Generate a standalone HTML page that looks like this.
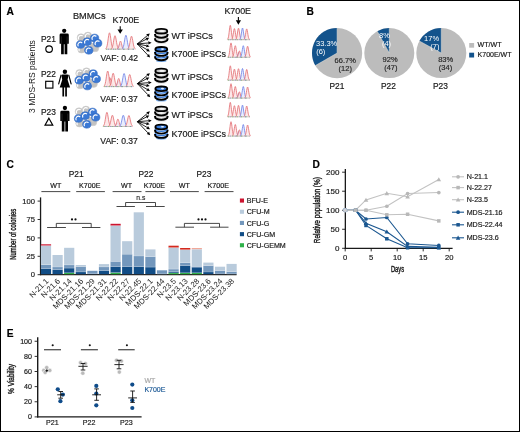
<!DOCTYPE html>
<html><head><meta charset="utf-8"><style>
html,body{margin:0;padding:0;background:#fff;overflow:hidden;width:520px;height:432px;}
#wrap{width:520px;height:432px;overflow:hidden;}
svg{display:block;will-change:transform;}
text{font-family:"Liberation Sans",sans-serif;}
</style></head><body>
<div id="wrap"><svg width="520" height="432" viewBox="0 0 520 432">
<defs>
<linearGradient id="gWT" x1="0" x2="1" y1="0" y2="0"><stop offset="0" stop-color="#b8b8b8"/><stop offset="0.5" stop-color="#f4f4f4"/><stop offset="1" stop-color="#b8b8b8"/></linearGradient>
<linearGradient id="gWTi" x1="0" x2="1" y1="0" y2="0"><stop offset="0" stop-color="#a8a8a8"/><stop offset="0.55" stop-color="#e6e6e6"/><stop offset="1" stop-color="#b0b0b0"/></linearGradient>
<linearGradient id="gBL" x1="0" x2="1" y1="0" y2="0"><stop offset="0" stop-color="#9ec2f0"/><stop offset="0.5" stop-color="#eef4fc"/><stop offset="1" stop-color="#9ec2f0"/></linearGradient>
<linearGradient id="gBLi" x1="0" x2="1" y1="0" y2="0"><stop offset="0" stop-color="#2a6fd4"/><stop offset="0.5" stop-color="#4d8ee6"/><stop offset="1" stop-color="#2a6fd4"/></linearGradient>
</defs>
<rect x="0.5" y="0.5" width="519" height="431" fill="#fff" stroke="#000" stroke-width="1"/>
<text x="6.60" y="15.10" font-size="10.2" fill="#000" stroke="#000" stroke-width="0.18" text-anchor="start" font-weight="bold" >A</text>
<text x="306.60" y="15.10" font-size="10.2" fill="#000" stroke="#000" stroke-width="0.18" text-anchor="start" font-weight="bold" >B</text>
<text x="6.40" y="168.00" font-size="10.2" fill="#000" stroke="#000" stroke-width="0.18" text-anchor="start" font-weight="bold" >C</text>
<text x="312.40" y="167.60" font-size="10.2" fill="#000" stroke="#000" stroke-width="0.18" text-anchor="start" font-weight="bold" >D</text>
<text x="6.80" y="337.00" font-size="10.2" fill="#000" stroke="#000" stroke-width="0.18" text-anchor="start" font-weight="bold" >E</text>
<text x="72.90" y="19.10" font-size="9.2" fill="#1a1a1a" stroke="#1a1a1a" stroke-width="0.18" text-anchor="start" font-weight="normal" >BMMCs</text>
<text x="112.60" y="23.40" font-size="8.9" fill="#1a1a1a" stroke="#1a1a1a" stroke-width="0.18" text-anchor="start" font-weight="normal" >K700E</text>
<text x="224.40" y="13.80" font-size="8.9" fill="#1a1a1a" stroke="#1a1a1a" stroke-width="0.18" text-anchor="start" font-weight="normal" >K700E</text>
<line x1="120.2" y1="26.2" x2="120.2" y2="30.099999999999998" stroke="#000" stroke-width="1.1"/>
<path d="M117.5,29.599999999999998 L122.9,29.599999999999998 L120.2,33.8 Z" fill="#000"/>
<line x1="238.4" y1="17.0" x2="238.4" y2="20.700000000000003" stroke="#000" stroke-width="1.1"/>
<path d="M235.8,20.200000000000003 L241.0,20.200000000000003 L238.4,24.8 Z" fill="#000"/>
<text transform="translate(35.3,76.5) rotate(-90)" font-size="8.5" fill="#1a1a1a" text-anchor="middle">3 MDS-RS patients</text>
<text x="40.90" y="41.70" font-size="8.4" fill="#1a1a1a" stroke="#1a1a1a" stroke-width="0.18" text-anchor="start" font-weight="normal" >P21</text>
<text x="40.90" y="77.10" font-size="8.4" fill="#1a1a1a" stroke="#1a1a1a" stroke-width="0.18" text-anchor="start" font-weight="normal" >P22</text>
<text x="40.90" y="114.50" font-size="8.4" fill="#1a1a1a" stroke="#1a1a1a" stroke-width="0.18" text-anchor="start" font-weight="normal" >P23</text>
<circle cx="49.1" cy="49.1" r="3.3" fill="none" stroke="#000" stroke-width="1.15"/>
<rect x="45.7" y="81.3" width="7.2" height="6.8" fill="none" stroke="#000" stroke-width="1.15"/>
<path d="M48.9,118.2 L52.8,125.1 L45.0,125.1 Z" fill="none" stroke="#000" stroke-width="1.15" stroke-linejoin="miter"/>
<circle cx="64.2" cy="30.8" r="2.15" fill="#000"/>
<path d="M59.6,35.0 Q59.6,33.6 61.0,33.6 L67.4,33.6 Q68.8,33.6 68.8,35.0 L68.8,43.7 L67.3,43.7 L67.3,54.3 L64.60000000000001,54.3 L64.60000000000001,44.2 L63.800000000000004,44.2 L63.800000000000004,54.3 L61.1,54.3 L61.1,43.7 L59.6,43.7 Z" fill="#000"/>
<line x1="61.300000000000004" y1="36.4" x2="61.300000000000004" y2="43.7" stroke="#555" stroke-width="0.4"/>
<line x1="67.10000000000001" y1="36.4" x2="67.10000000000001" y2="43.7" stroke="#555" stroke-width="0.4"/>
<circle cx="64.9" cy="71.8" r="2.2" fill="#000"/>
<path d="M62.50000000000001,74.5 L67.30000000000001,74.5 Q68.30000000000001,74.5 68.4,75.7 L67.60000000000001,79.7 L70.10000000000001,87.6 L59.7,87.6 L62.2,79.7 L61.400000000000006,75.7 Q61.50000000000001,74.5 62.50000000000001,74.5 Z" fill="#000"/>
<path d="M61.00000000000001,75.2 L58.7,83.9" stroke="#000" stroke-width="1.15" stroke-linecap="round"/>
<path d="M68.80000000000001,75.2 L71.10000000000001,83.9" stroke="#000" stroke-width="1.15" stroke-linecap="round"/>
<rect x="62.400000000000006" y="87.0" width="1.7" height="9.5" fill="#000"/>
<rect x="65.2" y="87.0" width="1.7" height="9.5" fill="#000"/>
<circle cx="64.9" cy="108.0" r="2.15" fill="#000"/>
<path d="M60.300000000000004,112.20000000000002 Q60.300000000000004,110.80000000000001 61.7,110.80000000000001 L68.10000000000001,110.80000000000001 Q69.5,110.80000000000001 69.5,112.20000000000002 L69.5,120.9 L68.0,120.9 L68.0,131.5 L65.30000000000001,131.5 L65.30000000000001,121.4 L64.5,121.4 L64.5,131.5 L61.800000000000004,131.5 L61.800000000000004,120.9 L60.300000000000004,120.9 Z" fill="#000"/>
<line x1="62.00000000000001" y1="113.60000000000001" x2="62.00000000000001" y2="120.9" stroke="#555" stroke-width="0.4"/>
<line x1="67.80000000000001" y1="113.60000000000001" x2="67.80000000000001" y2="120.9" stroke="#555" stroke-width="0.4"/>
<circle cx="81.00" cy="37.60" r="3.9" fill="#c2c2c2" stroke="#d0d0d0" stroke-width="0.5"/><path d="M78.54,38.99 A2.65,2.65 0 0 1 82.33,35.71" fill="none" stroke="#fff" stroke-width="1.2" stroke-linecap="round"/><circle cx="87.90" cy="36.00" r="3.9" fill="#c2c2c2" stroke="#d0d0d0" stroke-width="0.5"/><path d="M85.44,37.39 A2.65,2.65 0 0 1 89.23,34.11" fill="none" stroke="#fff" stroke-width="1.2" stroke-linecap="round"/><circle cx="81.60" cy="49.20" r="3.9" fill="#c2c2c2" stroke="#d0d0d0" stroke-width="0.5"/><path d="M79.14,50.59 A2.65,2.65 0 0 1 82.92,47.31" fill="none" stroke="#fff" stroke-width="1.2" stroke-linecap="round"/><circle cx="95.00" cy="47.90" r="3.9" fill="#c2c2c2" stroke="#d0d0d0" stroke-width="0.5"/><path d="M92.54,49.29 A2.65,2.65 0 0 1 96.33,46.01" fill="none" stroke="#fff" stroke-width="1.2" stroke-linecap="round"/><circle cx="88.50" cy="45.50" r="3.9" fill="#c2c2c2" stroke="#d0d0d0" stroke-width="0.5"/><path d="M86.04,46.89 A2.65,2.65 0 0 1 89.83,43.61" fill="none" stroke="#fff" stroke-width="1.2" stroke-linecap="round"/><circle cx="92.00" cy="44.50" r="3.9" fill="#c2c2c2" stroke="#d0d0d0" stroke-width="0.5"/><path d="M89.54,45.89 A2.65,2.65 0 0 1 93.33,42.61" fill="none" stroke="#fff" stroke-width="1.2" stroke-linecap="round"/><ellipse cx="80.50" cy="44.50" rx="4.15" ry="3.85" fill="#3b79d5" stroke="#3068c0" stroke-width="0.6"/><path d="M78.04,45.89 A2.65,2.65 0 0 1 81.83,42.61" fill="none" stroke="#fff" stroke-width="1.2" stroke-linecap="round"/><ellipse cx="87.20" cy="41.70" rx="4.15" ry="3.85" fill="#3b79d5" stroke="#3068c0" stroke-width="0.6"/><path d="M84.74,43.09 A2.65,2.65 0 0 1 88.53,39.81" fill="none" stroke="#fff" stroke-width="1.2" stroke-linecap="round"/><ellipse cx="94.60" cy="38.00" rx="4.15" ry="3.85" fill="#3b79d5" stroke="#3068c0" stroke-width="0.6"/><path d="M92.14,39.39 A2.65,2.65 0 0 1 95.92,36.11" fill="none" stroke="#fff" stroke-width="1.2" stroke-linecap="round"/><ellipse cx="97.70" cy="43.20" rx="4.15" ry="3.85" fill="#3b79d5" stroke="#3068c0" stroke-width="0.6"/><path d="M95.24,44.59 A2.65,2.65 0 0 1 99.03,41.31" fill="none" stroke="#fff" stroke-width="1.2" stroke-linecap="round"/><ellipse cx="88.80" cy="50.30" rx="4.15" ry="3.85" fill="#3b79d5" stroke="#3068c0" stroke-width="0.6"/><path d="M86.34,51.69 A2.65,2.65 0 0 1 90.12,48.41" fill="none" stroke="#fff" stroke-width="1.2" stroke-linecap="round"/>
<circle cx="79.60" cy="73.30" r="3.9" fill="#c2c2c2" stroke="#d0d0d0" stroke-width="0.5"/><path d="M77.14,74.69 A2.65,2.65 0 0 1 80.92,71.41" fill="none" stroke="#fff" stroke-width="1.2" stroke-linecap="round"/><circle cx="86.50" cy="71.70" r="3.9" fill="#c2c2c2" stroke="#d0d0d0" stroke-width="0.5"/><path d="M84.04,73.09 A2.65,2.65 0 0 1 87.83,69.81" fill="none" stroke="#fff" stroke-width="1.2" stroke-linecap="round"/><circle cx="80.20" cy="84.90" r="3.9" fill="#c2c2c2" stroke="#d0d0d0" stroke-width="0.5"/><path d="M77.74,86.29 A2.65,2.65 0 0 1 81.52,83.01" fill="none" stroke="#fff" stroke-width="1.2" stroke-linecap="round"/><circle cx="93.60" cy="83.60" r="3.9" fill="#c2c2c2" stroke="#d0d0d0" stroke-width="0.5"/><path d="M91.14,84.99 A2.65,2.65 0 0 1 94.92,81.71" fill="none" stroke="#fff" stroke-width="1.2" stroke-linecap="round"/><circle cx="87.10" cy="81.20" r="3.9" fill="#c2c2c2" stroke="#d0d0d0" stroke-width="0.5"/><path d="M84.64,82.59 A2.65,2.65 0 0 1 88.42,79.31" fill="none" stroke="#fff" stroke-width="1.2" stroke-linecap="round"/><circle cx="90.60" cy="80.20" r="3.9" fill="#c2c2c2" stroke="#d0d0d0" stroke-width="0.5"/><path d="M88.14,81.59 A2.65,2.65 0 0 1 91.92,78.31" fill="none" stroke="#fff" stroke-width="1.2" stroke-linecap="round"/><ellipse cx="79.10" cy="80.20" rx="4.15" ry="3.85" fill="#3b79d5" stroke="#3068c0" stroke-width="0.6"/><path d="M76.64,81.59 A2.65,2.65 0 0 1 80.42,78.31" fill="none" stroke="#fff" stroke-width="1.2" stroke-linecap="round"/><ellipse cx="85.80" cy="77.40" rx="4.15" ry="3.85" fill="#3b79d5" stroke="#3068c0" stroke-width="0.6"/><path d="M83.34,78.79 A2.65,2.65 0 0 1 87.12,75.51" fill="none" stroke="#fff" stroke-width="1.2" stroke-linecap="round"/><ellipse cx="93.20" cy="73.70" rx="4.15" ry="3.85" fill="#3b79d5" stroke="#3068c0" stroke-width="0.6"/><path d="M90.74,75.09 A2.65,2.65 0 0 1 94.52,71.81" fill="none" stroke="#fff" stroke-width="1.2" stroke-linecap="round"/><ellipse cx="96.30" cy="78.90" rx="4.15" ry="3.85" fill="#3b79d5" stroke="#3068c0" stroke-width="0.6"/><path d="M93.84,80.29 A2.65,2.65 0 0 1 97.62,77.01" fill="none" stroke="#fff" stroke-width="1.2" stroke-linecap="round"/><ellipse cx="87.40" cy="86.00" rx="4.15" ry="3.85" fill="#3b79d5" stroke="#3068c0" stroke-width="0.6"/><path d="M84.94,87.39 A2.65,2.65 0 0 1 88.72,84.11" fill="none" stroke="#fff" stroke-width="1.2" stroke-linecap="round"/>
<circle cx="79.00" cy="111.60" r="3.9" fill="#c2c2c2" stroke="#d0d0d0" stroke-width="0.5"/><path d="M76.54,112.99 A2.65,2.65 0 0 1 80.33,109.71" fill="none" stroke="#fff" stroke-width="1.2" stroke-linecap="round"/><circle cx="85.90" cy="110.00" r="3.9" fill="#c2c2c2" stroke="#d0d0d0" stroke-width="0.5"/><path d="M83.44,111.39 A2.65,2.65 0 0 1 87.23,108.11" fill="none" stroke="#fff" stroke-width="1.2" stroke-linecap="round"/><circle cx="79.60" cy="123.20" r="3.9" fill="#c2c2c2" stroke="#d0d0d0" stroke-width="0.5"/><path d="M77.14,124.59 A2.65,2.65 0 0 1 80.92,121.31" fill="none" stroke="#fff" stroke-width="1.2" stroke-linecap="round"/><circle cx="93.00" cy="121.90" r="3.9" fill="#c2c2c2" stroke="#d0d0d0" stroke-width="0.5"/><path d="M90.54,123.29 A2.65,2.65 0 0 1 94.33,120.01" fill="none" stroke="#fff" stroke-width="1.2" stroke-linecap="round"/><circle cx="86.50" cy="119.50" r="3.9" fill="#c2c2c2" stroke="#d0d0d0" stroke-width="0.5"/><path d="M84.04,120.89 A2.65,2.65 0 0 1 87.83,117.61" fill="none" stroke="#fff" stroke-width="1.2" stroke-linecap="round"/><circle cx="90.00" cy="118.50" r="3.9" fill="#c2c2c2" stroke="#d0d0d0" stroke-width="0.5"/><path d="M87.54,119.89 A2.65,2.65 0 0 1 91.33,116.61" fill="none" stroke="#fff" stroke-width="1.2" stroke-linecap="round"/><ellipse cx="78.50" cy="118.50" rx="4.15" ry="3.85" fill="#3b79d5" stroke="#3068c0" stroke-width="0.6"/><path d="M76.04,119.89 A2.65,2.65 0 0 1 79.83,116.61" fill="none" stroke="#fff" stroke-width="1.2" stroke-linecap="round"/><ellipse cx="85.20" cy="115.70" rx="4.15" ry="3.85" fill="#3b79d5" stroke="#3068c0" stroke-width="0.6"/><path d="M82.74,117.09 A2.65,2.65 0 0 1 86.53,113.81" fill="none" stroke="#fff" stroke-width="1.2" stroke-linecap="round"/><ellipse cx="92.60" cy="112.00" rx="4.15" ry="3.85" fill="#3b79d5" stroke="#3068c0" stroke-width="0.6"/><path d="M90.14,113.39 A2.65,2.65 0 0 1 93.92,110.11" fill="none" stroke="#fff" stroke-width="1.2" stroke-linecap="round"/><ellipse cx="95.70" cy="117.20" rx="4.15" ry="3.85" fill="#3b79d5" stroke="#3068c0" stroke-width="0.6"/><path d="M93.24,118.59 A2.65,2.65 0 0 1 97.03,115.31" fill="none" stroke="#fff" stroke-width="1.2" stroke-linecap="round"/><ellipse cx="86.80" cy="124.30" rx="4.15" ry="3.85" fill="#3b79d5" stroke="#3068c0" stroke-width="0.6"/><path d="M84.34,125.69 A2.65,2.65 0 0 1 88.12,122.41" fill="none" stroke="#fff" stroke-width="1.2" stroke-linecap="round"/>
<polyline points="105.45,48.92 105.86,48.67 106.26,48.19 106.67,47.30 107.07,45.87 107.47,43.81 107.88,41.17 108.28,38.23 108.69,35.49 109.09,33.52 109.50,32.80 109.91,33.52 110.31,35.49 110.72,38.23 111.12,41.17 111.53,43.81 111.93,45.87 112.33,47.30 112.74,48.19 113.14,48.67 113.55,48.92" fill="#fbe3e3" fill-opacity="0.8" stroke="#e26a6e" stroke-width="0.8" stroke-linejoin="round"/><polyline points="110.95,48.95 111.36,48.75 111.76,48.35 112.17,47.62 112.57,46.45 112.97,44.75 113.38,42.58 113.78,40.16 114.19,37.91 114.59,36.29 115.00,35.70 115.41,36.29 115.81,37.91 116.22,40.16 116.62,42.58 117.03,44.75 117.43,46.45 117.83,47.62 118.24,48.35 118.64,48.75 119.05,48.95" fill="#fbe3e3" fill-opacity="0.8" stroke="#e26a6e" stroke-width="0.8" stroke-linejoin="round"/><polyline points="116.90,49.04 117.23,48.97 117.56,48.81 117.89,48.54 118.22,48.09 118.55,47.44 118.88,46.62 119.21,45.70 119.54,44.84 119.87,44.22 120.20,44.00 120.53,44.22 120.86,44.84 121.19,45.70 121.52,46.62 121.85,47.44 122.18,48.09 122.51,48.54 122.84,48.81 123.17,48.97 123.50,49.04" fill="#e4e8fc" fill-opacity="0.8" stroke="#6a7ee6" stroke-width="0.8" stroke-linejoin="round"/><polyline points="117.05,49.01 117.39,48.89 117.74,48.65 118.08,48.22 118.43,47.52 118.78,46.50 119.12,45.21 119.47,43.76 119.81,42.42 120.16,41.45 120.50,41.10 120.84,41.45 121.19,42.42 121.53,43.76 121.88,45.21 122.22,46.50 122.57,47.52 122.92,48.22 123.26,48.65 123.61,48.89 123.95,49.01" fill="#fbe3e3" fill-opacity="0.8" stroke="#e26a6e" stroke-width="0.8" stroke-linejoin="round"/><polyline points="121.85,48.95 122.26,48.74 122.66,48.32 123.07,47.57 123.47,46.35 123.88,44.59 124.28,42.33 124.69,39.83 125.09,37.49 125.50,35.81 125.90,35.20 126.31,35.81 126.71,37.49 127.12,39.83 127.52,42.33 127.93,44.59 128.33,46.35 128.74,47.57 129.14,48.32 129.55,48.74 129.95,48.95" fill="#e4e8fc" fill-opacity="0.8" stroke="#6a7ee6" stroke-width="0.8" stroke-linejoin="round"/><polyline points="127.45,48.96 127.86,48.76 128.26,48.38 128.66,47.68 129.07,46.55 129.47,44.91 129.88,42.82 130.28,40.50 130.69,38.33 131.09,36.77 131.50,36.20 131.91,36.77 132.31,38.33 132.72,40.50 133.12,42.82 133.53,44.91 133.93,46.55 134.34,47.68 134.74,48.38 135.15,48.76 135.55,48.96" fill="#fbe3e3" fill-opacity="0.8" stroke="#e26a6e" stroke-width="0.8" stroke-linejoin="round"/><line x1="106.0" y1="49.2" x2="134.4" y2="49.2" stroke="#b7a8a0" stroke-width="0.7"/><line x1="106.0" y1="49.2" x2="134.4" y2="49.2" stroke="#6ab06a" stroke-width="0.7" stroke-dasharray="1.2 3.2"/><line x1="108.0" y1="49.2" x2="134.4" y2="49.2" stroke="#7080d0" stroke-width="0.7" stroke-dasharray="1.0 4.0"/>
<polyline points="105.80,86.40 106.19,86.26 106.58,85.99 106.97,85.51 107.36,84.72 107.75,83.58 108.14,82.12 108.53,80.50 108.92,78.98 109.31,77.90 109.70,77.50 110.09,77.90 110.48,78.98 110.87,80.50 111.26,82.12 111.65,83.58 112.04,84.72 112.43,85.51 112.82,85.99 113.21,86.26 113.60,86.40" fill="#fbe3e3" fill-opacity="0.8" stroke="#e26a6e" stroke-width="0.8" stroke-linejoin="round"/><polyline points="103.65,86.33 104.06,86.10 104.46,85.63 104.87,84.79 105.27,83.43 105.67,81.47 106.08,78.96 106.48,76.16 106.89,73.55 107.30,71.68 107.70,71.00 108.11,71.68 108.51,73.55 108.92,76.16 109.32,78.96 109.73,81.47 110.13,83.43 110.53,84.79 110.94,85.63 111.34,86.10 111.75,86.33" fill="#fbe3e3" fill-opacity="0.8" stroke="#e26a6e" stroke-width="0.8" stroke-linejoin="round"/><polyline points="109.15,86.35 109.56,86.15 109.96,85.75 110.37,85.03 110.77,83.87 111.17,82.18 111.58,80.03 111.98,77.63 112.39,75.39 112.80,73.79 113.20,73.20 113.61,73.79 114.01,75.39 114.42,77.63 114.82,80.03 115.23,82.18 115.63,83.87 116.03,85.03 116.44,85.75 116.84,86.15 117.25,86.35" fill="#fbe3e3" fill-opacity="0.8" stroke="#e26a6e" stroke-width="0.8" stroke-linejoin="round"/><polyline points="115.10,86.44 115.43,86.37 115.76,86.22 116.09,85.95 116.42,85.51 116.75,84.88 117.08,84.07 117.41,83.17 117.74,82.32 118.07,81.72 118.40,81.50 118.73,81.72 119.06,82.32 119.39,83.17 119.72,84.07 120.05,84.88 120.38,85.51 120.71,85.95 121.04,86.22 121.37,86.37 121.70,86.44" fill="#e4e8fc" fill-opacity="0.8" stroke="#6a7ee6" stroke-width="0.8" stroke-linejoin="round"/><polyline points="115.25,86.41 115.59,86.29 115.94,86.05 116.28,85.61 116.63,84.90 116.98,83.87 117.32,82.56 117.67,81.10 118.01,79.73 118.36,78.76 118.70,78.40 119.05,78.76 119.39,79.73 119.73,81.10 120.08,82.56 120.42,83.87 120.77,84.90 121.12,85.61 121.46,86.05 121.81,86.29 122.15,86.41" fill="#fbe3e3" fill-opacity="0.8" stroke="#e26a6e" stroke-width="0.8" stroke-linejoin="round"/><polyline points="120.05,86.36 120.46,86.16 120.86,85.77 121.27,85.07 121.67,83.93 122.08,82.28 122.48,80.17 122.89,77.83 123.29,75.64 123.70,74.07 124.10,73.50 124.51,74.07 124.91,75.64 125.32,77.83 125.72,80.17 126.13,82.28 126.53,83.93 126.94,85.07 127.34,85.77 127.75,86.16 128.15,86.36" fill="#e4e8fc" fill-opacity="0.8" stroke="#6a7ee6" stroke-width="0.8" stroke-linejoin="round"/><polyline points="125.65,86.37 126.05,86.19 126.46,85.83 126.86,85.18 127.27,84.13 127.67,82.60 128.08,80.66 128.48,78.50 128.89,76.48 129.29,75.03 129.70,74.50 130.10,75.03 130.51,76.48 130.91,78.50 131.32,80.66 131.72,82.60 132.13,84.13 132.53,85.18 132.94,85.83 133.34,86.19 133.75,86.37" fill="#fbe3e3" fill-opacity="0.8" stroke="#e26a6e" stroke-width="0.8" stroke-linejoin="round"/><line x1="104.2" y1="86.6" x2="132.6" y2="86.6" stroke="#b7a8a0" stroke-width="0.7"/><line x1="104.2" y1="86.6" x2="132.6" y2="86.6" stroke="#6ab06a" stroke-width="0.7" stroke-dasharray="1.2 3.2"/><line x1="106.2" y1="86.6" x2="132.6" y2="86.6" stroke="#7080d0" stroke-width="0.7" stroke-dasharray="1.0 4.0"/>
<polyline points="102.85,126.24 103.26,126.03 103.66,125.61 104.07,124.85 104.47,123.61 104.88,121.82 105.28,119.54 105.69,117.00 106.09,114.62 106.50,112.92 106.90,112.30 107.31,112.92 107.71,114.62 108.12,117.00 108.52,119.54 108.93,121.82 109.33,123.61 109.73,124.85 110.14,125.61 110.55,126.03 110.95,126.24" fill="#fbe3e3" fill-opacity="0.8" stroke="#e26a6e" stroke-width="0.8" stroke-linejoin="round"/><polyline points="108.35,126.28 108.76,126.11 109.16,125.77 109.57,125.17 109.97,124.18 110.38,122.76 110.78,120.95 111.19,118.93 111.59,117.04 112.00,115.69 112.40,115.20 112.81,115.69 113.21,117.04 113.62,118.93 114.02,120.95 114.43,122.76 114.83,124.18 115.23,125.17 115.64,125.77 116.05,126.11 116.45,126.28" fill="#fbe3e3" fill-opacity="0.8" stroke="#e26a6e" stroke-width="0.8" stroke-linejoin="round"/><polyline points="114.30,126.36 114.63,126.31 114.96,126.21 115.29,126.03 115.62,125.73 115.95,125.30 116.28,124.75 116.61,124.13 116.94,123.56 117.27,123.15 117.60,123.00 117.93,123.15 118.26,123.56 118.59,124.13 118.92,124.75 119.25,125.30 119.58,125.73 119.91,126.03 120.24,126.21 120.57,126.31 120.90,126.36" fill="#e4e8fc" fill-opacity="0.8" stroke="#6a7ee6" stroke-width="0.8" stroke-linejoin="round"/><polyline points="114.45,126.32 114.80,126.21 115.14,125.99 115.48,125.60 115.83,124.96 116.18,124.03 116.52,122.85 116.87,121.53 117.21,120.30 117.56,119.42 117.90,119.10 118.25,119.42 118.59,120.30 118.94,121.53 119.28,122.85 119.62,124.03 119.97,124.96 120.32,125.60 120.66,125.99 121.01,126.21 121.35,126.32" fill="#fbe3e3" fill-opacity="0.8" stroke="#e26a6e" stroke-width="0.8" stroke-linejoin="round"/><polyline points="119.25,126.28 119.66,126.11 120.06,125.77 120.47,125.17 120.87,124.18 121.28,122.76 121.68,120.95 122.09,118.93 122.49,117.04 122.90,115.69 123.30,115.20 123.71,115.69 124.11,117.04 124.52,118.93 124.92,120.95 125.33,122.76 125.73,124.18 126.14,125.17 126.54,125.77 126.95,126.11 127.35,126.28" fill="#e4e8fc" fill-opacity="0.8" stroke="#6a7ee6" stroke-width="0.8" stroke-linejoin="round"/><polyline points="124.85,126.28 125.26,126.12 125.66,125.79 126.07,125.20 126.47,124.24 126.88,122.86 127.28,121.09 127.69,119.13 128.09,117.30 128.50,115.98 128.90,115.50 129.31,115.98 129.71,117.30 130.12,119.13 130.52,121.09 130.93,122.86 131.33,124.24 131.74,125.20 132.14,125.79 132.55,126.12 132.95,126.28" fill="#fbe3e3" fill-opacity="0.8" stroke="#e26a6e" stroke-width="0.8" stroke-linejoin="round"/><line x1="103.4" y1="126.5" x2="131.8" y2="126.5" stroke="#b7a8a0" stroke-width="0.7"/><line x1="103.4" y1="126.5" x2="131.8" y2="126.5" stroke="#6ab06a" stroke-width="0.7" stroke-dasharray="1.2 3.2"/><line x1="105.4" y1="126.5" x2="131.8" y2="126.5" stroke="#7080d0" stroke-width="0.7" stroke-dasharray="1.0 4.0"/>
<polyline points="227.30,39.44 227.60,39.23 227.90,38.80 228.20,38.02 228.50,36.77 228.80,34.96 229.10,32.64 229.40,30.06 229.70,27.66 230.00,25.93 230.30,25.30 230.60,25.93 230.90,27.66 231.20,30.06 231.50,32.64 231.80,34.96 232.10,36.77 232.40,38.02 232.70,38.80 233.00,39.23 233.30,39.44" fill="#fbe3e3" fill-opacity="0.8" stroke="#e26a6e" stroke-width="0.8" stroke-linejoin="round"/><polyline points="231.40,39.48 231.70,39.31 232.00,38.98 232.30,38.39 232.60,37.42 232.90,36.03 233.20,34.25 233.50,32.26 233.80,30.41 234.10,29.08 234.40,28.60 234.70,29.08 235.00,30.41 235.30,32.26 235.60,34.25 235.90,36.03 236.20,37.42 236.50,38.39 236.80,38.98 237.10,39.31 237.40,39.48" fill="#fbe3e3" fill-opacity="0.8" stroke="#e26a6e" stroke-width="0.8" stroke-linejoin="round"/><polyline points="235.50,39.47 235.80,39.30 236.10,38.96 236.40,38.34 236.70,37.34 237.00,35.90 237.30,34.05 237.60,32.00 237.90,30.08 238.20,28.70 238.50,28.20 238.80,28.70 239.10,30.08 239.40,32.00 239.70,34.05 240.00,35.90 240.30,37.34 240.60,38.34 240.90,38.96 241.20,39.30 241.50,39.47" fill="#fbe3e3" fill-opacity="0.8" stroke="#e26a6e" stroke-width="0.8" stroke-linejoin="round"/><polyline points="239.50,39.47 239.80,39.30 240.10,38.95 240.40,38.32 240.70,37.30 241.00,35.83 241.30,33.95 241.60,31.86 241.90,29.91 242.20,28.51 242.50,28.00 242.80,28.51 243.10,29.91 243.40,31.86 243.70,33.95 244.00,35.83 244.30,37.30 244.60,38.32 244.90,38.95 245.20,39.30 245.50,39.47" fill="#e4e8fc" fill-opacity="0.8" stroke="#6a7ee6" stroke-width="0.8" stroke-linejoin="round"/><polyline points="243.70,39.48 244.00,39.32 244.30,39.00 244.60,38.42 244.90,37.48 245.20,36.13 245.50,34.39 245.80,32.46 246.10,30.66 246.40,29.37 246.70,28.90 247.00,29.37 247.30,30.66 247.60,32.46 247.90,34.39 248.20,36.13 248.50,37.48 248.80,38.42 249.10,39.00 249.40,39.32 249.70,39.48" fill="#fbe3e3" fill-opacity="0.8" stroke="#e26a6e" stroke-width="0.8" stroke-linejoin="round"/><line x1="227.8" y1="39.7" x2="250.0" y2="39.7" stroke="#b7a8a0" stroke-width="0.7"/><line x1="227.8" y1="39.7" x2="250.0" y2="39.7" stroke="#6ab06a" stroke-width="0.7" stroke-dasharray="1.2 3.2"/><line x1="229.8" y1="39.7" x2="250.0" y2="39.7" stroke="#7080d0" stroke-width="0.7" stroke-dasharray="1.0 4.0"/>
<polyline points="227.85,57.04 228.16,56.83 228.48,56.40 228.79,55.62 229.11,54.37 229.43,52.56 229.74,50.24 230.06,47.66 230.37,45.26 230.69,43.53 231.00,42.90 231.31,43.53 231.63,45.26 231.94,47.66 232.26,50.24 232.57,52.56 232.89,54.37 233.21,55.62 233.52,56.40 233.84,56.83 234.15,57.04" fill="#fbe3e3" fill-opacity="0.8" stroke="#e26a6e" stroke-width="0.8" stroke-linejoin="round"/><polyline points="232.15,57.07 232.47,56.90 232.78,56.55 233.09,55.93 233.41,54.92 233.73,53.47 234.04,51.60 234.36,49.53 234.67,47.59 234.99,46.21 235.30,45.70 235.62,46.21 235.93,47.59 236.25,49.53 236.56,51.60 236.88,53.47 237.19,54.92 237.51,55.93 237.82,56.55 238.14,56.90 238.45,57.07" fill="#fbe3e3" fill-opacity="0.8" stroke="#e26a6e" stroke-width="0.8" stroke-linejoin="round"/><polyline points="236.40,57.15 236.67,57.07 236.94,56.92 237.21,56.66 237.48,56.23 237.75,55.61 238.02,54.81 238.29,53.93 238.56,53.11 238.83,52.52 239.10,52.30 239.37,52.52 239.64,53.11 239.91,53.93 240.18,54.81 240.45,55.61 240.72,56.23 240.99,56.66 241.26,56.92 241.53,57.07 241.80,57.15" fill="#e4e8fc" fill-opacity="0.8" stroke="#6a7ee6" stroke-width="0.8" stroke-linejoin="round"/><polyline points="236.55,57.13 236.84,57.04 237.12,56.85 237.41,56.52 237.69,55.97 237.97,55.19 238.26,54.18 238.55,53.06 238.83,52.02 239.12,51.27 239.40,51.00 239.69,51.27 239.97,52.02 240.25,53.06 240.54,54.18 240.83,55.19 241.11,55.97 241.40,56.52 241.68,56.85 241.97,57.04 242.25,57.13" fill="#fbe3e3" fill-opacity="0.8" stroke="#e26a6e" stroke-width="0.8" stroke-linejoin="round"/><polyline points="240.15,57.07 240.47,56.90 240.78,56.55 241.09,55.93 241.41,54.92 241.73,53.47 242.04,51.60 242.36,49.53 242.67,47.59 242.99,46.21 243.30,45.70 243.62,46.21 243.93,47.59 244.25,49.53 244.56,51.60 244.88,53.47 245.19,54.92 245.51,55.93 245.82,56.55 246.14,56.90 246.45,57.07" fill="#e4e8fc" fill-opacity="0.8" stroke="#6a7ee6" stroke-width="0.8" stroke-linejoin="round"/><polyline points="244.45,57.08 244.76,56.91 245.08,56.58 245.39,55.99 245.71,55.02 246.03,53.63 246.34,51.85 246.66,49.86 246.97,48.01 247.28,46.68 247.60,46.20 247.91,46.68 248.23,48.01 248.54,49.86 248.86,51.85 249.17,53.63 249.49,55.02 249.81,55.99 250.12,56.58 250.44,56.91 250.75,57.08" fill="#fbe3e3" fill-opacity="0.8" stroke="#e26a6e" stroke-width="0.8" stroke-linejoin="round"/><line x1="227.8" y1="57.300000000000004" x2="250.0" y2="57.300000000000004" stroke="#b7a8a0" stroke-width="0.7"/><line x1="227.8" y1="57.300000000000004" x2="250.0" y2="57.300000000000004" stroke="#6ab06a" stroke-width="0.7" stroke-dasharray="1.2 3.2"/><line x1="229.8" y1="57.300000000000004" x2="250.0" y2="57.300000000000004" stroke="#7080d0" stroke-width="0.7" stroke-dasharray="1.0 4.0"/>
<polyline points="227.30,79.94 227.60,79.73 227.90,79.30 228.20,78.52 228.50,77.27 228.80,75.46 229.10,73.14 229.40,70.56 229.70,68.16 230.00,66.43 230.30,65.80 230.60,66.43 230.90,68.16 231.20,70.56 231.50,73.14 231.80,75.46 232.10,77.27 232.40,78.52 232.70,79.30 233.00,79.73 233.30,79.94" fill="#fbe3e3" fill-opacity="0.8" stroke="#e26a6e" stroke-width="0.8" stroke-linejoin="round"/><polyline points="231.40,79.98 231.70,79.81 232.00,79.48 232.30,78.89 232.60,77.92 232.90,76.53 233.20,74.75 233.50,72.76 233.80,70.91 234.10,69.58 234.40,69.10 234.70,69.58 235.00,70.91 235.30,72.76 235.60,74.75 235.90,76.53 236.20,77.92 236.50,78.89 236.80,79.48 237.10,79.81 237.40,79.98" fill="#fbe3e3" fill-opacity="0.8" stroke="#e26a6e" stroke-width="0.8" stroke-linejoin="round"/><polyline points="235.50,79.97 235.80,79.80 236.10,79.46 236.40,78.84 236.70,77.84 237.00,76.40 237.30,74.55 237.60,72.50 237.90,70.58 238.20,69.20 238.50,68.70 238.80,69.20 239.10,70.58 239.40,72.50 239.70,74.55 240.00,76.40 240.30,77.84 240.60,78.84 240.90,79.46 241.20,79.80 241.50,79.97" fill="#fbe3e3" fill-opacity="0.8" stroke="#e26a6e" stroke-width="0.8" stroke-linejoin="round"/><polyline points="239.50,79.97 239.80,79.80 240.10,79.45 240.40,78.82 240.70,77.80 241.00,76.33 241.30,74.45 241.60,72.36 241.90,70.41 242.20,69.01 242.50,68.50 242.80,69.01 243.10,70.41 243.40,72.36 243.70,74.45 244.00,76.33 244.30,77.80 244.60,78.82 244.90,79.45 245.20,79.80 245.50,79.97" fill="#e4e8fc" fill-opacity="0.8" stroke="#6a7ee6" stroke-width="0.8" stroke-linejoin="round"/><polyline points="243.70,79.98 244.00,79.82 244.30,79.50 244.60,78.92 244.90,77.98 245.20,76.63 245.50,74.89 245.80,72.96 246.10,71.16 246.40,69.87 246.70,69.40 247.00,69.87 247.30,71.16 247.60,72.96 247.90,74.89 248.20,76.63 248.50,77.98 248.80,78.92 249.10,79.50 249.40,79.82 249.70,79.98" fill="#fbe3e3" fill-opacity="0.8" stroke="#e26a6e" stroke-width="0.8" stroke-linejoin="round"/><line x1="227.8" y1="80.19999999999999" x2="250.0" y2="80.19999999999999" stroke="#b7a8a0" stroke-width="0.7"/><line x1="227.8" y1="80.19999999999999" x2="250.0" y2="80.19999999999999" stroke="#6ab06a" stroke-width="0.7" stroke-dasharray="1.2 3.2"/><line x1="229.8" y1="80.19999999999999" x2="250.0" y2="80.19999999999999" stroke="#7080d0" stroke-width="0.7" stroke-dasharray="1.0 4.0"/>
<polyline points="227.85,97.84 228.16,97.63 228.48,97.20 228.79,96.42 229.11,95.17 229.43,93.36 229.74,91.04 230.06,88.46 230.37,86.06 230.69,84.33 231.00,83.70 231.31,84.33 231.63,86.06 231.94,88.46 232.26,91.04 232.57,93.36 232.89,95.17 233.21,96.42 233.52,97.20 233.84,97.63 234.15,97.84" fill="#fbe3e3" fill-opacity="0.8" stroke="#e26a6e" stroke-width="0.8" stroke-linejoin="round"/><polyline points="232.15,97.87 232.47,97.70 232.78,97.35 233.09,96.73 233.41,95.72 233.73,94.27 234.04,92.40 234.36,90.33 234.67,88.39 234.99,87.01 235.30,86.50 235.62,87.01 235.93,88.39 236.25,90.33 236.56,92.40 236.88,94.27 237.19,95.72 237.51,96.73 237.82,97.35 238.14,97.70 238.45,97.87" fill="#fbe3e3" fill-opacity="0.8" stroke="#e26a6e" stroke-width="0.8" stroke-linejoin="round"/><polyline points="236.40,97.95 236.67,97.87 236.94,97.72 237.21,97.46 237.48,97.03 237.75,96.41 238.02,95.61 238.29,94.73 238.56,93.91 238.83,93.32 239.10,93.10 239.37,93.32 239.64,93.91 239.91,94.73 240.18,95.61 240.45,96.41 240.72,97.03 240.99,97.46 241.26,97.72 241.53,97.87 241.80,97.95" fill="#e4e8fc" fill-opacity="0.8" stroke="#6a7ee6" stroke-width="0.8" stroke-linejoin="round"/><polyline points="236.55,97.93 236.84,97.84 237.12,97.65 237.41,97.32 237.69,96.77 237.97,95.99 238.26,94.98 238.55,93.86 238.83,92.82 239.12,92.07 239.40,91.80 239.69,92.07 239.97,92.82 240.25,93.86 240.54,94.98 240.83,95.99 241.11,96.77 241.40,97.32 241.68,97.65 241.97,97.84 242.25,97.93" fill="#fbe3e3" fill-opacity="0.8" stroke="#e26a6e" stroke-width="0.8" stroke-linejoin="round"/><polyline points="240.15,97.87 240.47,97.70 240.78,97.35 241.09,96.73 241.41,95.72 241.73,94.27 242.04,92.40 242.36,90.33 242.67,88.39 242.99,87.01 243.30,86.50 243.62,87.01 243.93,88.39 244.25,90.33 244.56,92.40 244.88,94.27 245.19,95.72 245.51,96.73 245.82,97.35 246.14,97.70 246.45,97.87" fill="#e4e8fc" fill-opacity="0.8" stroke="#6a7ee6" stroke-width="0.8" stroke-linejoin="round"/><polyline points="244.45,97.88 244.76,97.71 245.08,97.38 245.39,96.79 245.71,95.82 246.03,94.43 246.34,92.65 246.66,90.66 246.97,88.81 247.28,87.48 247.60,87.00 247.91,87.48 248.23,88.81 248.54,90.66 248.86,92.65 249.17,94.43 249.49,95.82 249.81,96.79 250.12,97.38 250.44,97.71 250.75,97.88" fill="#fbe3e3" fill-opacity="0.8" stroke="#e26a6e" stroke-width="0.8" stroke-linejoin="round"/><line x1="227.8" y1="98.1" x2="250.0" y2="98.1" stroke="#b7a8a0" stroke-width="0.7"/><line x1="227.8" y1="98.1" x2="250.0" y2="98.1" stroke="#6ab06a" stroke-width="0.7" stroke-dasharray="1.2 3.2"/><line x1="229.8" y1="98.1" x2="250.0" y2="98.1" stroke="#7080d0" stroke-width="0.7" stroke-dasharray="1.0 4.0"/>
<polyline points="227.30,116.54 227.60,116.33 227.90,115.90 228.20,115.12 228.50,113.87 228.80,112.06 229.10,109.74 229.40,107.16 229.70,104.76 230.00,103.03 230.30,102.40 230.60,103.03 230.90,104.76 231.20,107.16 231.50,109.74 231.80,112.06 232.10,113.87 232.40,115.12 232.70,115.90 233.00,116.33 233.30,116.54" fill="#fbe3e3" fill-opacity="0.8" stroke="#e26a6e" stroke-width="0.8" stroke-linejoin="round"/><polyline points="231.40,116.58 231.70,116.41 232.00,116.08 232.30,115.49 232.60,114.52 232.90,113.13 233.20,111.35 233.50,109.36 233.80,107.51 234.10,106.18 234.40,105.70 234.70,106.18 235.00,107.51 235.30,109.36 235.60,111.35 235.90,113.13 236.20,114.52 236.50,115.49 236.80,116.08 237.10,116.41 237.40,116.58" fill="#fbe3e3" fill-opacity="0.8" stroke="#e26a6e" stroke-width="0.8" stroke-linejoin="round"/><polyline points="235.50,116.57 235.80,116.40 236.10,116.06 236.40,115.44 236.70,114.44 237.00,113.00 237.30,111.15 237.60,109.10 237.90,107.18 238.20,105.80 238.50,105.30 238.80,105.80 239.10,107.18 239.40,109.10 239.70,111.15 240.00,113.00 240.30,114.44 240.60,115.44 240.90,116.06 241.20,116.40 241.50,116.57" fill="#fbe3e3" fill-opacity="0.8" stroke="#e26a6e" stroke-width="0.8" stroke-linejoin="round"/><polyline points="239.50,116.57 239.80,116.40 240.10,116.05 240.40,115.42 240.70,114.40 241.00,112.93 241.30,111.05 241.60,108.96 241.90,107.01 242.20,105.61 242.50,105.10 242.80,105.61 243.10,107.01 243.40,108.96 243.70,111.05 244.00,112.93 244.30,114.40 244.60,115.42 244.90,116.05 245.20,116.40 245.50,116.57" fill="#e4e8fc" fill-opacity="0.8" stroke="#6a7ee6" stroke-width="0.8" stroke-linejoin="round"/><polyline points="243.70,116.58 244.00,116.42 244.30,116.10 244.60,115.52 244.90,114.58 245.20,113.23 245.50,111.49 245.80,109.56 246.10,107.76 246.40,106.47 246.70,106.00 247.00,106.47 247.30,107.76 247.60,109.56 247.90,111.49 248.20,113.23 248.50,114.58 248.80,115.52 249.10,116.10 249.40,116.42 249.70,116.58" fill="#fbe3e3" fill-opacity="0.8" stroke="#e26a6e" stroke-width="0.8" stroke-linejoin="round"/><line x1="227.8" y1="116.8" x2="250.0" y2="116.8" stroke="#b7a8a0" stroke-width="0.7"/><line x1="227.8" y1="116.8" x2="250.0" y2="116.8" stroke="#6ab06a" stroke-width="0.7" stroke-dasharray="1.2 3.2"/><line x1="229.8" y1="116.8" x2="250.0" y2="116.8" stroke="#7080d0" stroke-width="0.7" stroke-dasharray="1.0 4.0"/>
<polyline points="227.85,135.84 228.16,135.63 228.48,135.20 228.79,134.42 229.11,133.17 229.43,131.36 229.74,129.04 230.06,126.46 230.37,124.06 230.69,122.33 231.00,121.70 231.31,122.33 231.63,124.06 231.94,126.46 232.26,129.04 232.57,131.36 232.89,133.17 233.21,134.42 233.52,135.20 233.84,135.63 234.15,135.84" fill="#fbe3e3" fill-opacity="0.8" stroke="#e26a6e" stroke-width="0.8" stroke-linejoin="round"/><polyline points="232.15,135.87 232.47,135.70 232.78,135.35 233.09,134.73 233.41,133.72 233.73,132.27 234.04,130.40 234.36,128.33 234.67,126.39 234.99,125.01 235.30,124.50 235.62,125.01 235.93,126.39 236.25,128.33 236.56,130.40 236.88,132.27 237.19,133.72 237.51,134.73 237.82,135.35 238.14,135.70 238.45,135.87" fill="#fbe3e3" fill-opacity="0.8" stroke="#e26a6e" stroke-width="0.8" stroke-linejoin="round"/><polyline points="236.40,135.95 236.67,135.87 236.94,135.72 237.21,135.46 237.48,135.03 237.75,134.41 238.02,133.61 238.29,132.73 238.56,131.91 238.83,131.32 239.10,131.10 239.37,131.32 239.64,131.91 239.91,132.73 240.18,133.61 240.45,134.41 240.72,135.03 240.99,135.46 241.26,135.72 241.53,135.87 241.80,135.95" fill="#e4e8fc" fill-opacity="0.8" stroke="#6a7ee6" stroke-width="0.8" stroke-linejoin="round"/><polyline points="236.55,135.93 236.84,135.84 237.12,135.65 237.41,135.32 237.69,134.77 237.97,133.99 238.26,132.98 238.55,131.86 238.83,130.82 239.12,130.07 239.40,129.80 239.69,130.07 239.97,130.82 240.25,131.86 240.54,132.98 240.83,133.99 241.11,134.77 241.40,135.32 241.68,135.65 241.97,135.84 242.25,135.93" fill="#fbe3e3" fill-opacity="0.8" stroke="#e26a6e" stroke-width="0.8" stroke-linejoin="round"/><polyline points="240.15,135.87 240.47,135.70 240.78,135.35 241.09,134.73 241.41,133.72 241.73,132.27 242.04,130.40 242.36,128.33 242.67,126.39 242.99,125.01 243.30,124.50 243.62,125.01 243.93,126.39 244.25,128.33 244.56,130.40 244.88,132.27 245.19,133.72 245.51,134.73 245.82,135.35 246.14,135.70 246.45,135.87" fill="#e4e8fc" fill-opacity="0.8" stroke="#6a7ee6" stroke-width="0.8" stroke-linejoin="round"/><polyline points="244.45,135.88 244.76,135.71 245.08,135.38 245.39,134.79 245.71,133.82 246.03,132.43 246.34,130.65 246.66,128.66 246.97,126.81 247.28,125.48 247.60,125.00 247.91,125.48 248.23,126.81 248.54,128.66 248.86,130.65 249.17,132.43 249.49,133.82 249.81,134.79 250.12,135.38 250.44,135.71 250.75,135.88" fill="#fbe3e3" fill-opacity="0.8" stroke="#e26a6e" stroke-width="0.8" stroke-linejoin="round"/><line x1="227.8" y1="136.1" x2="250.0" y2="136.1" stroke="#b7a8a0" stroke-width="0.7"/><line x1="227.8" y1="136.1" x2="250.0" y2="136.1" stroke="#6ab06a" stroke-width="0.7" stroke-dasharray="1.2 3.2"/><line x1="229.8" y1="136.1" x2="250.0" y2="136.1" stroke="#7080d0" stroke-width="0.7" stroke-dasharray="1.0 4.0"/>
<text x="100.50" y="61.20" font-size="8.6" fill="#1a1a1a" stroke="#1a1a1a" stroke-width="0.18" text-anchor="start" font-weight="normal" >VAF: 0.42</text>
<text x="100.30" y="101.90" font-size="8.6" fill="#1a1a1a" stroke="#1a1a1a" stroke-width="0.18" text-anchor="start" font-weight="normal" >VAF: 0.37</text>
<text x="100.30" y="143.60" font-size="8.6" fill="#1a1a1a" stroke="#1a1a1a" stroke-width="0.18" text-anchor="start" font-weight="normal" >VAF: 0.37</text>
<line x1="137.3" y1="43.9" x2="147.26" y2="35.61" stroke="#000" stroke-width="0.85"/><path d="M149.80,33.50 L148.32,36.88 L146.21,34.34 Z" fill="#000"/><line x1="137.3" y1="43.9" x2="146.27" y2="39.22" stroke="#000" stroke-width="0.85"/><path d="M149.20,37.70 L147.04,40.69 L145.51,37.76 Z" fill="#000"/><line x1="137.3" y1="43.9" x2="148.31" y2="42.98" stroke="#000" stroke-width="0.85"/><path d="M151.60,42.70 L148.45,44.62 L148.17,41.33 Z" fill="#000"/><line x1="137.3" y1="43.9" x2="146.37" y2="45.74" stroke="#000" stroke-width="0.85"/><path d="M149.60,46.40 L146.04,47.36 L146.69,44.13 Z" fill="#000"/><line x1="137.3" y1="43.9" x2="147.06" y2="49.71" stroke="#000" stroke-width="0.85"/><path d="M149.90,51.40 L146.22,51.13 L147.91,48.29 Z" fill="#000"/><line x1="137.3" y1="43.9" x2="147.84" y2="55.10" stroke="#000" stroke-width="0.85"/><path d="M150.10,57.50 L146.64,56.23 L149.04,53.97 Z" fill="#000"/>
<line x1="137.4" y1="83.6" x2="147.36" y2="75.31" stroke="#000" stroke-width="0.85"/><path d="M149.90,73.20 L148.42,76.58 L146.31,74.04 Z" fill="#000"/><line x1="137.4" y1="83.6" x2="146.37" y2="78.92" stroke="#000" stroke-width="0.85"/><path d="M149.30,77.40 L147.14,80.39 L145.61,77.46 Z" fill="#000"/><line x1="137.4" y1="83.6" x2="148.41" y2="82.68" stroke="#000" stroke-width="0.85"/><path d="M151.70,82.40 L148.55,84.32 L148.27,81.03 Z" fill="#000"/><line x1="137.4" y1="83.6" x2="146.47" y2="85.44" stroke="#000" stroke-width="0.85"/><path d="M149.70,86.10 L146.14,87.06 L146.79,83.83 Z" fill="#000"/><line x1="137.4" y1="83.6" x2="147.16" y2="89.41" stroke="#000" stroke-width="0.85"/><path d="M150.00,91.10 L146.32,90.83 L148.01,87.99 Z" fill="#000"/><line x1="137.4" y1="83.6" x2="147.94" y2="94.80" stroke="#000" stroke-width="0.85"/><path d="M150.20,97.20 L146.74,95.93 L149.14,93.67 Z" fill="#000"/>
<line x1="137.4" y1="121.7" x2="147.36" y2="113.41" stroke="#000" stroke-width="0.85"/><path d="M149.90,111.30 L148.42,114.68 L146.31,112.14 Z" fill="#000"/><line x1="137.4" y1="121.7" x2="146.37" y2="117.02" stroke="#000" stroke-width="0.85"/><path d="M149.30,115.50 L147.14,118.49 L145.61,115.56 Z" fill="#000"/><line x1="137.4" y1="121.7" x2="148.41" y2="120.78" stroke="#000" stroke-width="0.85"/><path d="M151.70,120.50 L148.55,122.42 L148.27,119.13 Z" fill="#000"/><line x1="137.4" y1="121.7" x2="146.47" y2="123.54" stroke="#000" stroke-width="0.85"/><path d="M149.70,124.20 L146.14,125.16 L146.79,121.93 Z" fill="#000"/><line x1="137.4" y1="121.7" x2="147.16" y2="127.51" stroke="#000" stroke-width="0.85"/><path d="M150.00,129.20 L146.32,128.93 L148.01,126.09 Z" fill="#000"/><line x1="137.4" y1="121.7" x2="147.94" y2="132.90" stroke="#000" stroke-width="0.85"/><path d="M150.20,135.30 L146.74,134.03 L149.14,131.77 Z" fill="#000"/>
<ellipse cx="161.3" cy="42.8" rx="5.2" ry="1.1" fill="#d4d4d4" opacity="0.8"/><path d="M154.8,31.2 L154.8,39.8 A6.5,2.8 0 0 0 167.8,39.8 L167.8,31.2 Z" fill="url(#gWT)"/><path d="M155.05,33.9 L155.05,34.9 A6.25,2.9 0 0 0 167.55,34.9 L167.55,33.9" fill="none" stroke="#000" stroke-width="1.9"/><path d="M155.05,38.199999999999996 L155.05,39.199999999999996 A6.25,2.9 0 0 0 167.55,39.199999999999996 L167.55,38.199999999999996" fill="none" stroke="#000" stroke-width="1.9"/><ellipse cx="161.3" cy="31.2" rx="5.95" ry="2.3" fill="url(#gWTi)" stroke="#000" stroke-width="1.8"/><ellipse cx="162.10000000000002" cy="31.099999999999998" rx="2.6" ry="0.9" fill="#f8f8f8"/>
<ellipse cx="161.3" cy="60.9" rx="5.2" ry="1.1" fill="#5b9be8" opacity="0.8"/><path d="M154.8,49.3 L154.8,57.9 A6.5,2.8 0 0 0 167.8,57.9 L167.8,49.3 Z" fill="url(#gBL)"/><path d="M155.3,50.99999999999999 A6.0,2.6 0 0 0 167.3,50.99999999999999" fill="none" stroke="#3d82e2" stroke-width="1.3"/><path d="M155.05,51.99999999999999 L155.05,52.99999999999999 A6.25,2.9 0 0 0 167.55,52.99999999999999 L167.55,51.99999999999999" fill="none" stroke="#000" stroke-width="1.9"/><path d="M155.3,55.3 A6.0,2.6 0 0 0 167.3,55.3" fill="none" stroke="#3d82e2" stroke-width="1.3"/><path d="M155.05,56.3 L155.05,57.3 A6.25,2.9 0 0 0 167.55,57.3 L167.55,56.3" fill="none" stroke="#000" stroke-width="1.9"/><ellipse cx="161.3" cy="49.3" rx="5.95" ry="2.3" fill="url(#gBLi)" stroke="#000" stroke-width="1.8"/><ellipse cx="162.5" cy="49.099999999999994" rx="1.6" ry="0.8" fill="#e8f0fb"/>
<ellipse cx="161.3" cy="82.5" rx="5.2" ry="1.1" fill="#d4d4d4" opacity="0.8"/><path d="M154.8,70.9 L154.8,79.5 A6.5,2.8 0 0 0 167.8,79.5 L167.8,70.9 Z" fill="url(#gWT)"/><path d="M155.05,73.60000000000001 L155.05,74.60000000000001 A6.25,2.9 0 0 0 167.55,74.60000000000001 L167.55,73.60000000000001" fill="none" stroke="#000" stroke-width="1.9"/><path d="M155.05,77.9 L155.05,78.9 A6.25,2.9 0 0 0 167.55,78.9 L167.55,77.9" fill="none" stroke="#000" stroke-width="1.9"/><ellipse cx="161.3" cy="70.9" rx="5.95" ry="2.3" fill="url(#gWTi)" stroke="#000" stroke-width="1.8"/><ellipse cx="162.10000000000002" cy="70.80000000000001" rx="2.6" ry="0.9" fill="#f8f8f8"/>
<ellipse cx="161.3" cy="100.39999999999999" rx="5.2" ry="1.1" fill="#5b9be8" opacity="0.8"/><path d="M154.8,88.8 L154.8,97.39999999999999 A6.5,2.8 0 0 0 167.8,97.39999999999999 L167.8,88.8 Z" fill="url(#gBL)"/><path d="M155.3,90.5 A6.0,2.6 0 0 0 167.3,90.5" fill="none" stroke="#3d82e2" stroke-width="1.3"/><path d="M155.05,91.5 L155.05,92.5 A6.25,2.9 0 0 0 167.55,92.5 L167.55,91.5" fill="none" stroke="#000" stroke-width="1.9"/><path d="M155.3,94.8 A6.0,2.6 0 0 0 167.3,94.8" fill="none" stroke="#3d82e2" stroke-width="1.3"/><path d="M155.05,95.8 L155.05,96.8 A6.25,2.9 0 0 0 167.55,96.8 L167.55,95.8" fill="none" stroke="#000" stroke-width="1.9"/><ellipse cx="161.3" cy="88.8" rx="5.95" ry="2.3" fill="url(#gBLi)" stroke="#000" stroke-width="1.8"/><ellipse cx="162.5" cy="88.6" rx="1.6" ry="0.8" fill="#e8f0fb"/>
<ellipse cx="161.3" cy="120.5" rx="5.2" ry="1.1" fill="#d4d4d4" opacity="0.8"/><path d="M154.8,108.9 L154.8,117.5 A6.5,2.8 0 0 0 167.8,117.5 L167.8,108.9 Z" fill="url(#gWT)"/><path d="M155.05,111.60000000000001 L155.05,112.60000000000001 A6.25,2.9 0 0 0 167.55,112.60000000000001 L167.55,111.60000000000001" fill="none" stroke="#000" stroke-width="1.9"/><path d="M155.05,115.9 L155.05,116.9 A6.25,2.9 0 0 0 167.55,116.9 L167.55,115.9" fill="none" stroke="#000" stroke-width="1.9"/><ellipse cx="161.3" cy="108.9" rx="5.95" ry="2.3" fill="url(#gWTi)" stroke="#000" stroke-width="1.8"/><ellipse cx="162.10000000000002" cy="108.80000000000001" rx="2.6" ry="0.9" fill="#f8f8f8"/>
<ellipse cx="161.3" cy="138.6" rx="5.2" ry="1.1" fill="#5b9be8" opacity="0.8"/><path d="M154.8,127.0 L154.8,135.6 A6.5,2.8 0 0 0 167.8,135.6 L167.8,127.0 Z" fill="url(#gBL)"/><path d="M155.3,128.70000000000002 A6.0,2.6 0 0 0 167.3,128.70000000000002" fill="none" stroke="#3d82e2" stroke-width="1.3"/><path d="M155.05,129.70000000000002 L155.05,130.70000000000002 A6.25,2.9 0 0 0 167.55,130.70000000000002 L167.55,129.70000000000002" fill="none" stroke="#000" stroke-width="1.9"/><path d="M155.3,133.0 A6.0,2.6 0 0 0 167.3,133.0" fill="none" stroke="#3d82e2" stroke-width="1.3"/><path d="M155.05,134.0 L155.05,135.0 A6.25,2.9 0 0 0 167.55,135.0 L167.55,134.0" fill="none" stroke="#000" stroke-width="1.9"/><ellipse cx="161.3" cy="127.0" rx="5.95" ry="2.3" fill="url(#gBLi)" stroke="#000" stroke-width="1.8"/><ellipse cx="162.5" cy="126.8" rx="1.6" ry="0.8" fill="#e8f0fb"/>
<text x="171.40" y="39.30" font-size="9.0" fill="#1a1a1a" stroke="#1a1a1a" stroke-width="0.18" text-anchor="start" font-weight="normal" >WT iPSCs</text>
<text x="171.40" y="56.50" font-size="9.0" fill="#1a1a1a" stroke="#1a1a1a" stroke-width="0.18" text-anchor="start" font-weight="normal" >K700E iPSCs</text>
<text x="171.40" y="80.20" font-size="9.0" fill="#1a1a1a" stroke="#1a1a1a" stroke-width="0.18" text-anchor="start" font-weight="normal" >WT iPSCs</text>
<text x="171.40" y="97.50" font-size="9.0" fill="#1a1a1a" stroke="#1a1a1a" stroke-width="0.18" text-anchor="start" font-weight="normal" >K700E iPSCs</text>
<text x="171.40" y="118.30" font-size="9.0" fill="#1a1a1a" stroke="#1a1a1a" stroke-width="0.18" text-anchor="start" font-weight="normal" >WT iPSCs</text>
<text x="171.40" y="136.50" font-size="9.0" fill="#1a1a1a" stroke="#1a1a1a" stroke-width="0.18" text-anchor="start" font-weight="normal" >K700E iPSCs</text>
<circle cx="337.1" cy="53.1" r="25.1" fill="#bcbcbc"/>
<path d="M337.1,53.1 L337.1,28.0 A25.1,25.1 0 0 0 315.34,65.60 Z" fill="#13538c"/>
<path d="M315.34,65.60 L337.1,53.1 L337.1,28.0" fill="none" stroke="#e8e4dc" stroke-width="0.5"/>
<circle cx="389.3" cy="53.1" r="25.0" fill="#bcbcbc"/>
<path d="M389.3,53.1 L389.3,28.1 A25.0,25.0 0 0 0 377.26,31.19 Z" fill="#13538c"/>
<path d="M377.26,31.19 L389.3,53.1 L389.3,28.1" fill="none" stroke="#e8e4dc" stroke-width="0.5"/>
<circle cx="441.3" cy="53.1" r="25.0" fill="#bcbcbc"/>
<path d="M441.3,53.1 L441.3,28.1 A25.0,25.0 0 0 0 419.39,41.06 Z" fill="#13538c"/>
<path d="M419.39,41.06 L441.3,53.1 L441.3,28.1" fill="none" stroke="#e8e4dc" stroke-width="0.5"/>
<text x="316.00" y="46.00" font-size="7.5" fill="#ffffff" text-anchor="start" font-weight="normal" >33.3%</text>
<text x="316.20" y="54.30" font-size="7.5" fill="#ffffff" text-anchor="start" font-weight="normal" >(6)</text>
<text x="334.60" y="62.50" font-size="7.5" fill="#2a2a2a" stroke="#2a2a2a" stroke-width="0.18" text-anchor="start" font-weight="normal" >66.7%</text>
<text x="338.60" y="70.70" font-size="7.5" fill="#2a2a2a" stroke="#2a2a2a" stroke-width="0.18" text-anchor="start" font-weight="normal" >(12)</text>
<text x="379.00" y="37.50" font-size="7.5" fill="#ffffff" text-anchor="start" font-weight="normal" >8%</text>
<text x="381.90" y="46.20" font-size="7.5" fill="#ffffff" text-anchor="start" font-weight="normal" >(4)</text>
<text x="382.60" y="61.70" font-size="7.5" fill="#2a2a2a" stroke="#2a2a2a" stroke-width="0.18" text-anchor="start" font-weight="normal" >92%</text>
<text x="384.20" y="70.30" font-size="7.5" fill="#2a2a2a" stroke="#2a2a2a" stroke-width="0.18" text-anchor="start" font-weight="normal" >(47)</text>
<text x="424.10" y="40.50" font-size="7.5" fill="#ffffff" text-anchor="start" font-weight="normal" >17%</text>
<text x="430.30" y="49.40" font-size="7.5" fill="#ffffff" text-anchor="start" font-weight="normal" >(7)</text>
<text x="438.20" y="61.70" font-size="7.5" fill="#2a2a2a" stroke="#2a2a2a" stroke-width="0.18" text-anchor="start" font-weight="normal" >83%</text>
<text x="438.80" y="70.30" font-size="7.5" fill="#2a2a2a" stroke="#2a2a2a" stroke-width="0.18" text-anchor="start" font-weight="normal" >(34)</text>
<text x="329.50" y="88.50" font-size="8.4" fill="#1a1a1a" stroke="#1a1a1a" stroke-width="0.18" text-anchor="start" font-weight="normal" >P21</text>
<text x="381.00" y="88.50" font-size="8.4" fill="#1a1a1a" stroke="#1a1a1a" stroke-width="0.18" text-anchor="start" font-weight="normal" >P22</text>
<text x="433.00" y="88.50" font-size="8.4" fill="#1a1a1a" stroke="#1a1a1a" stroke-width="0.18" text-anchor="start" font-weight="normal" >P23</text>
<rect x="469.2" y="43.0" width="4.9" height="4.7" fill="#bcbcbc"/>
<rect x="469.2" y="52.7" width="4.9" height="4.8" fill="#13538c"/>
<text x="477.60" y="47.30" font-size="7.1" fill="#1a1a1a" stroke="#1a1a1a" stroke-width="0.18" text-anchor="start" font-weight="normal" >WT/WT</text>
<text x="477.60" y="57.20" font-size="7.0" fill="#1a1a1a" stroke="#1a1a1a" stroke-width="0.18" text-anchor="start" font-weight="normal" >K700E/WT</text>
<text x="68.70" y="177.00" font-size="8.4" fill="#1a1a1a" stroke="#1a1a1a" stroke-width="0.18" text-anchor="start" font-weight="normal" >P21</text>
<text x="138.40" y="177.00" font-size="8.4" fill="#1a1a1a" stroke="#1a1a1a" stroke-width="0.18" text-anchor="start" font-weight="normal" >P22</text>
<text x="196.40" y="177.00" font-size="8.4" fill="#1a1a1a" stroke="#1a1a1a" stroke-width="0.18" text-anchor="start" font-weight="normal" >P23</text>
<text x="50.20" y="188.10" font-size="7.1" fill="#1a1a1a" stroke="#1a1a1a" stroke-width="0.18" text-anchor="start" font-weight="normal" >WT</text>
<text x="79.10" y="188.10" font-size="7.1" fill="#1a1a1a" stroke="#1a1a1a" stroke-width="0.18" text-anchor="start" font-weight="normal" >K700E</text>
<text x="121.10" y="188.10" font-size="7.1" fill="#1a1a1a" stroke="#1a1a1a" stroke-width="0.18" text-anchor="start" font-weight="normal" >WT</text>
<text x="143.70" y="188.10" font-size="7.1" fill="#1a1a1a" stroke="#1a1a1a" stroke-width="0.18" text-anchor="start" font-weight="normal" >K700E</text>
<text x="178.70" y="188.10" font-size="7.1" fill="#1a1a1a" stroke="#1a1a1a" stroke-width="0.18" text-anchor="start" font-weight="normal" >WT</text>
<text x="207.60" y="188.10" font-size="7.1" fill="#1a1a1a" stroke="#1a1a1a" stroke-width="0.18" text-anchor="start" font-weight="normal" >K700E</text>
<line x1="41.4" y1="191.6" x2="70.3" y2="191.6" stroke="#333" stroke-width="0.9"/>
<line x1="76.2" y1="191.6" x2="104.9" y2="191.6" stroke="#333" stroke-width="0.9"/>
<line x1="112.6" y1="191.6" x2="141.5" y2="191.6" stroke="#333" stroke-width="0.9"/>
<line x1="145.4" y1="191.6" x2="164.6" y2="191.6" stroke="#333" stroke-width="0.9"/>
<line x1="170.0" y1="191.6" x2="198.8" y2="191.6" stroke="#333" stroke-width="0.9"/>
<line x1="204.6" y1="191.6" x2="233.5" y2="191.6" stroke="#333" stroke-width="0.9"/>
<line x1="40.55" y1="197.4" x2="40.55" y2="275.2" stroke="#1a1a1a" stroke-width="1.3"/>
<line x1="39.9" y1="274.65" x2="236.6" y2="274.65" stroke="#2a241f" stroke-width="1.3"/>
<line x1="37.6" y1="274.70" x2="40.5" y2="274.70" stroke="#1a1a1a" stroke-width="0.9"/>
<text x="34.90" y="277.40" font-size="7.6" fill="#1a1a1a" stroke="#1a1a1a" stroke-width="0.18" text-anchor="end" font-weight="normal" >0</text>
<line x1="37.6" y1="256.30" x2="40.5" y2="256.30" stroke="#1a1a1a" stroke-width="0.9"/>
<text x="34.90" y="259.00" font-size="7.6" fill="#1a1a1a" stroke="#1a1a1a" stroke-width="0.18" text-anchor="end" font-weight="normal" >25</text>
<line x1="37.6" y1="237.90" x2="40.5" y2="237.90" stroke="#1a1a1a" stroke-width="0.9"/>
<text x="34.90" y="240.60" font-size="7.6" fill="#1a1a1a" stroke="#1a1a1a" stroke-width="0.18" text-anchor="end" font-weight="normal" >50</text>
<line x1="37.6" y1="219.50" x2="40.5" y2="219.50" stroke="#1a1a1a" stroke-width="0.9"/>
<text x="34.90" y="222.20" font-size="7.6" fill="#1a1a1a" stroke="#1a1a1a" stroke-width="0.18" text-anchor="end" font-weight="normal" >75</text>
<line x1="37.6" y1="201.10" x2="40.5" y2="201.10" stroke="#1a1a1a" stroke-width="0.9"/>
<text x="34.90" y="203.80" font-size="7.6" fill="#1a1a1a" stroke="#1a1a1a" stroke-width="0.18" text-anchor="end" font-weight="normal" >100</text>
<text transform="translate(15.7,259.7) rotate(-90)" font-size="8.8" fill="#1a1a1a" stroke="#1a1a1a" stroke-width="0.4" textLength="51" lengthAdjust="spacingAndGlyphs">Number of colonies</text>
<rect x="40.90" y="268.80" width="10.2" height="5.40" fill="#114d86"/>
<rect x="40.90" y="264.70" width="10.2" height="4.10" fill="#7397bc"/>
<rect x="40.90" y="245.60" width="10.2" height="19.10" fill="#b9cbdc"/>
<rect x="40.90" y="244.30" width="10.2" height="1.30" fill="#cc1530"/>
<line x1="40.90" y1="268.80" x2="51.10" y2="268.80" stroke="#fff" stroke-width="0.35" opacity="0.6"/>
<line x1="40.90" y1="264.70" x2="51.10" y2="264.70" stroke="#fff" stroke-width="0.35" opacity="0.6"/>
<line x1="40.90" y1="245.60" x2="51.10" y2="245.60" stroke="#fff" stroke-width="0.35" opacity="0.6"/>
<rect x="52.50" y="269.80" width="10.2" height="4.40" fill="#114d86"/>
<rect x="52.50" y="267.00" width="10.2" height="2.80" fill="#7397bc"/>
<rect x="52.50" y="255.00" width="10.2" height="12.00" fill="#b9cbdc"/>
<line x1="52.50" y1="269.80" x2="62.70" y2="269.80" stroke="#fff" stroke-width="0.35" opacity="0.6"/>
<line x1="52.50" y1="267.00" x2="62.70" y2="267.00" stroke="#fff" stroke-width="0.35" opacity="0.6"/>
<rect x="64.10" y="272.80" width="10.2" height="1.40" fill="#2fb24a"/>
<rect x="64.10" y="268.10" width="10.2" height="4.70" fill="#114d86"/>
<rect x="64.10" y="264.90" width="10.2" height="3.20" fill="#7397bc"/>
<rect x="64.10" y="247.80" width="10.2" height="17.10" fill="#b9cbdc"/>
<line x1="64.10" y1="272.80" x2="74.30" y2="272.80" stroke="#fff" stroke-width="0.35" opacity="0.6"/>
<line x1="64.10" y1="268.10" x2="74.30" y2="268.10" stroke="#fff" stroke-width="0.35" opacity="0.6"/>
<line x1="64.10" y1="264.90" x2="74.30" y2="264.90" stroke="#fff" stroke-width="0.35" opacity="0.6"/>
<rect x="75.70" y="271.90" width="10.2" height="2.30" fill="#114d86"/>
<rect x="75.70" y="266.50" width="10.2" height="5.40" fill="#7397bc"/>
<rect x="75.70" y="265.00" width="10.2" height="1.50" fill="#b9cbdc"/>
<line x1="75.70" y1="271.90" x2="85.90" y2="271.90" stroke="#fff" stroke-width="0.35" opacity="0.6"/>
<line x1="75.70" y1="266.50" x2="85.90" y2="266.50" stroke="#fff" stroke-width="0.35" opacity="0.6"/>
<rect x="87.30" y="273.80" width="10.2" height="0.40" fill="#114d86"/>
<rect x="87.30" y="270.80" width="10.2" height="3.00" fill="#7397bc"/>
<line x1="87.30" y1="273.80" x2="97.50" y2="273.80" stroke="#fff" stroke-width="0.35" opacity="0.6"/>
<rect x="98.90" y="270.80" width="10.2" height="3.40" fill="#114d86"/>
<rect x="98.90" y="266.90" width="10.2" height="3.90" fill="#7397bc"/>
<rect x="98.90" y="264.10" width="10.2" height="2.80" fill="#b9cbdc"/>
<line x1="98.90" y1="270.80" x2="109.10" y2="270.80" stroke="#fff" stroke-width="0.35" opacity="0.6"/>
<line x1="98.90" y1="266.90" x2="109.10" y2="266.90" stroke="#fff" stroke-width="0.35" opacity="0.6"/>
<rect x="110.50" y="272.60" width="10.2" height="1.60" fill="#2fb24a"/>
<rect x="110.50" y="266.80" width="10.2" height="5.80" fill="#114d86"/>
<rect x="110.50" y="261.40" width="10.2" height="5.40" fill="#7397bc"/>
<rect x="110.50" y="225.60" width="10.2" height="35.80" fill="#b9cbdc"/>
<rect x="110.50" y="223.80" width="10.2" height="1.80" fill="#cc1530"/>
<line x1="110.50" y1="272.60" x2="120.70" y2="272.60" stroke="#fff" stroke-width="0.35" opacity="0.6"/>
<line x1="110.50" y1="266.80" x2="120.70" y2="266.80" stroke="#fff" stroke-width="0.35" opacity="0.6"/>
<line x1="110.50" y1="261.40" x2="120.70" y2="261.40" stroke="#fff" stroke-width="0.35" opacity="0.6"/>
<line x1="110.50" y1="225.60" x2="120.70" y2="225.60" stroke="#fff" stroke-width="0.35" opacity="0.6"/>
<rect x="122.10" y="266.80" width="10.2" height="7.40" fill="#114d86"/>
<rect x="122.10" y="254.20" width="10.2" height="12.60" fill="#7397bc"/>
<rect x="122.10" y="241.20" width="10.2" height="13.00" fill="#b9cbdc"/>
<line x1="122.10" y1="266.80" x2="132.30" y2="266.80" stroke="#fff" stroke-width="0.35" opacity="0.6"/>
<line x1="122.10" y1="254.20" x2="132.30" y2="254.20" stroke="#fff" stroke-width="0.35" opacity="0.6"/>
<rect x="133.70" y="266.60" width="10.2" height="7.60" fill="#114d86"/>
<rect x="133.70" y="256.00" width="10.2" height="10.60" fill="#7397bc"/>
<rect x="133.70" y="212.30" width="10.2" height="43.70" fill="#b9cbdc"/>
<line x1="133.70" y1="266.60" x2="143.90" y2="266.60" stroke="#fff" stroke-width="0.35" opacity="0.6"/>
<line x1="133.70" y1="256.00" x2="143.90" y2="256.00" stroke="#fff" stroke-width="0.35" opacity="0.6"/>
<rect x="145.30" y="267.10" width="10.2" height="7.10" fill="#114d86"/>
<rect x="145.30" y="256.80" width="10.2" height="10.30" fill="#7397bc"/>
<rect x="145.30" y="249.40" width="10.2" height="7.40" fill="#b9cbdc"/>
<line x1="145.30" y1="267.10" x2="155.50" y2="267.10" stroke="#fff" stroke-width="0.35" opacity="0.6"/>
<line x1="145.30" y1="256.80" x2="155.50" y2="256.80" stroke="#fff" stroke-width="0.35" opacity="0.6"/>
<rect x="156.90" y="273.90" width="10.2" height="0.30" fill="#114d86"/>
<rect x="156.90" y="270.30" width="10.2" height="3.60" fill="#7397bc"/>
<line x1="156.90" y1="273.90" x2="167.10" y2="273.90" stroke="#fff" stroke-width="0.35" opacity="0.6"/>
<rect x="168.50" y="272.90" width="10.2" height="1.30" fill="#2fb24a"/>
<rect x="168.50" y="271.80" width="10.2" height="1.10" fill="#114d86"/>
<rect x="168.50" y="269.10" width="10.2" height="2.70" fill="#7397bc"/>
<rect x="168.50" y="247.60" width="10.2" height="21.50" fill="#b9cbdc"/>
<rect x="168.50" y="245.70" width="10.2" height="1.90" fill="#d42a1e"/>
<line x1="168.50" y1="272.90" x2="178.70" y2="272.90" stroke="#fff" stroke-width="0.35" opacity="0.6"/>
<line x1="168.50" y1="271.80" x2="178.70" y2="271.80" stroke="#fff" stroke-width="0.35" opacity="0.6"/>
<line x1="168.50" y1="269.10" x2="178.70" y2="269.10" stroke="#fff" stroke-width="0.35" opacity="0.6"/>
<line x1="168.50" y1="247.60" x2="178.70" y2="247.60" stroke="#fff" stroke-width="0.35" opacity="0.6"/>
<rect x="180.10" y="272.80" width="10.2" height="1.40" fill="#2fb24a"/>
<rect x="180.10" y="265.80" width="10.2" height="7.00" fill="#114d86"/>
<rect x="180.10" y="262.80" width="10.2" height="3.00" fill="#7397bc"/>
<rect x="180.10" y="249.70" width="10.2" height="13.10" fill="#b9cbdc"/>
<rect x="180.10" y="248.00" width="10.2" height="1.70" fill="#d42a1e"/>
<line x1="180.10" y1="272.80" x2="190.30" y2="272.80" stroke="#fff" stroke-width="0.35" opacity="0.6"/>
<line x1="180.10" y1="265.80" x2="190.30" y2="265.80" stroke="#fff" stroke-width="0.35" opacity="0.6"/>
<line x1="180.10" y1="262.80" x2="190.30" y2="262.80" stroke="#fff" stroke-width="0.35" opacity="0.6"/>
<line x1="180.10" y1="249.70" x2="190.30" y2="249.70" stroke="#fff" stroke-width="0.35" opacity="0.6"/>
<rect x="191.70" y="272.80" width="10.2" height="1.40" fill="#2fb24a"/>
<rect x="191.70" y="267.20" width="10.2" height="5.60" fill="#114d86"/>
<rect x="191.70" y="266.40" width="10.2" height="0.80" fill="#7397bc"/>
<rect x="191.70" y="249.20" width="10.2" height="17.20" fill="#b9cbdc"/>
<rect x="191.70" y="248.10" width="10.2" height="1.10" fill="#f0a090"/>
<line x1="191.70" y1="272.80" x2="201.90" y2="272.80" stroke="#fff" stroke-width="0.35" opacity="0.6"/>
<line x1="191.70" y1="267.20" x2="201.90" y2="267.20" stroke="#fff" stroke-width="0.35" opacity="0.6"/>
<line x1="191.70" y1="266.40" x2="201.90" y2="266.40" stroke="#fff" stroke-width="0.35" opacity="0.6"/>
<line x1="191.70" y1="249.20" x2="201.90" y2="249.20" stroke="#fff" stroke-width="0.35" opacity="0.6"/>
<rect x="203.30" y="272.00" width="10.2" height="2.20" fill="#114d86"/>
<rect x="203.30" y="265.60" width="10.2" height="6.40" fill="#7397bc"/>
<rect x="203.30" y="262.60" width="10.2" height="3.00" fill="#b9cbdc"/>
<line x1="203.30" y1="272.00" x2="213.50" y2="272.00" stroke="#fff" stroke-width="0.35" opacity="0.6"/>
<line x1="203.30" y1="265.60" x2="213.50" y2="265.60" stroke="#fff" stroke-width="0.35" opacity="0.6"/>
<rect x="214.90" y="273.40" width="10.2" height="0.80" fill="#114d86"/>
<rect x="214.90" y="270.60" width="10.2" height="2.80" fill="#7397bc"/>
<rect x="214.90" y="266.70" width="10.2" height="3.90" fill="#b9cbdc"/>
<line x1="214.90" y1="273.40" x2="225.10" y2="273.40" stroke="#fff" stroke-width="0.35" opacity="0.6"/>
<line x1="214.90" y1="270.60" x2="225.10" y2="270.60" stroke="#fff" stroke-width="0.35" opacity="0.6"/>
<rect x="226.50" y="273.90" width="10.2" height="0.30" fill="#114d86"/>
<rect x="226.50" y="271.60" width="10.2" height="2.30" fill="#7397bc"/>
<rect x="226.50" y="263.90" width="10.2" height="7.70" fill="#b9cbdc"/>
<line x1="226.50" y1="273.90" x2="236.70" y2="273.90" stroke="#fff" stroke-width="0.35" opacity="0.6"/>
<line x1="226.50" y1="271.60" x2="236.70" y2="271.60" stroke="#fff" stroke-width="0.35" opacity="0.6"/>
<text transform="translate(49.00,281.6) rotate(-45)" font-size="7.8" fill="#1a1a1a" text-anchor="end">N-21.1</text>
<text transform="translate(60.60,281.6) rotate(-45)" font-size="7.8" fill="#1a1a1a" text-anchor="end">N-21.6</text>
<text transform="translate(72.20,281.6) rotate(-45)" font-size="7.8" fill="#1a1a1a" text-anchor="end">N-21.14</text>
<text transform="translate(83.80,281.6) rotate(-45)" font-size="7.8" fill="#1a1a1a" text-anchor="end">MDS-21.16</text>
<text transform="translate(95.40,281.6) rotate(-45)" font-size="7.8" fill="#1a1a1a" text-anchor="end">MDS-21.29</text>
<text transform="translate(107.00,281.6) rotate(-45)" font-size="7.8" fill="#1a1a1a" text-anchor="end">MDS-21.31</text>
<text transform="translate(118.60,281.6) rotate(-45)" font-size="7.8" fill="#1a1a1a" text-anchor="end">N-22.22</text>
<text transform="translate(130.20,281.6) rotate(-45)" font-size="7.8" fill="#1a1a1a" text-anchor="end">N-22.27</text>
<text transform="translate(141.80,281.6) rotate(-45)" font-size="7.8" fill="#1a1a1a" text-anchor="end">N-22.45</text>
<text transform="translate(153.40,281.6) rotate(-45)" font-size="7.8" fill="#1a1a1a" text-anchor="end">MDS-22.1</text>
<text transform="translate(165.00,281.6) rotate(-45)" font-size="7.8" fill="#1a1a1a" text-anchor="end">MDS-22.44</text>
<text transform="translate(176.60,281.6) rotate(-45)" font-size="7.8" fill="#1a1a1a" text-anchor="end">N-23.5</text>
<text transform="translate(188.20,281.6) rotate(-45)" font-size="7.8" fill="#1a1a1a" text-anchor="end">N-23.13</text>
<text transform="translate(199.80,281.6) rotate(-45)" font-size="7.8" fill="#1a1a1a" text-anchor="end">N-23.28</text>
<text transform="translate(211.40,281.6) rotate(-45)" font-size="7.8" fill="#1a1a1a" text-anchor="end">MDS-23.6</text>
<text transform="translate(223.00,281.6) rotate(-45)" font-size="7.8" fill="#1a1a1a" text-anchor="end">MDS-23.24</text>
<text transform="translate(234.60,281.6) rotate(-45)" font-size="7.8" fill="#1a1a1a" text-anchor="end">MDS-23.38</text>
<path d="M47.1,227.5 L65.9,227.5 M82.0,227.5 L100.4,227.5 M56.3,227.5 L56.3,223.4 L91.2,223.4 L91.2,227.5" fill="none" stroke="#333" stroke-width="0.9"/>
<path d="M116.5,206.5 L134.9,206.5 M146.0,206.5 L164.7,206.5 M125.6,206.5 L125.6,202.5 L155.5,202.5 L155.5,206.5" fill="none" stroke="#333" stroke-width="0.9"/>
<path d="M175.4,227.2 L194.0,227.2 M210.1,227.2 L228.5,227.2 M184.4,227.2 L184.4,223.4 L219.5,223.4 L219.5,227.2" fill="none" stroke="#333" stroke-width="0.9"/>
<circle cx="72.0" cy="219.4" r="1.1" fill="#111"/>
<circle cx="75.5" cy="219.4" r="1.1" fill="#111"/>
<circle cx="198.5" cy="219.4" r="1.1" fill="#111"/>
<circle cx="202.0" cy="219.4" r="1.1" fill="#111"/>
<circle cx="205.5" cy="219.4" r="1.1" fill="#111"/>
<text x="136.3" y="199.6" font-size="7.8" fill="#1a1a1a" stroke="#1a1a1a" stroke-width="0.15" textLength="9.0" lengthAdjust="spacingAndGlyphs">n.s</text>
<rect x="239.9" y="198.5" width="4.1" height="4.1" fill="#cc1530"/>
<text x="246.70" y="203.10" font-size="7.1" fill="#1a1a1a" stroke="#1a1a1a" stroke-width="0.18" text-anchor="start" font-weight="normal" >BFU-E</text>
<rect x="239.9" y="209.7" width="4.1" height="4.1" fill="#b9cbdc"/>
<text x="246.70" y="214.30" font-size="7.1" fill="#1a1a1a" stroke="#1a1a1a" stroke-width="0.18" text-anchor="start" font-weight="normal" >CFU-M</text>
<rect x="239.9" y="220.9" width="4.1" height="4.1" fill="#7397bc"/>
<text x="246.70" y="225.50" font-size="7.1" fill="#1a1a1a" stroke="#1a1a1a" stroke-width="0.18" text-anchor="start" font-weight="normal" >CFU-G</text>
<rect x="239.9" y="232.1" width="4.1" height="4.1" fill="#114d86"/>
<text x="246.70" y="236.70" font-size="7.1" fill="#1a1a1a" stroke="#1a1a1a" stroke-width="0.18" text-anchor="start" font-weight="normal" >CFU-GM</text>
<rect x="239.9" y="243.2" width="4.1" height="4.1" fill="#2fb24a"/>
<text x="246.70" y="247.80" font-size="7.1" fill="#1a1a1a" stroke="#1a1a1a" stroke-width="0.18" text-anchor="start" font-weight="normal" >CFU-GEMM</text>
<line x1="345.35" y1="169.0" x2="345.35" y2="248.9" stroke="#1a1a1a" stroke-width="1.3"/>
<line x1="344.7" y1="248.3" x2="452.6" y2="248.3" stroke="#1a1a1a" stroke-width="1.3"/>
<line x1="342.1" y1="248.30" x2="345.2" y2="248.30" stroke="#1a1a1a" stroke-width="0.9"/>
<text x="339.40" y="251.10" font-size="8.0" fill="#1a1a1a" stroke="#1a1a1a" stroke-width="0.18" text-anchor="end" font-weight="normal" >0</text>
<line x1="342.1" y1="229.28" x2="345.2" y2="229.28" stroke="#1a1a1a" stroke-width="0.9"/>
<text x="339.40" y="232.08" font-size="8.0" fill="#1a1a1a" stroke="#1a1a1a" stroke-width="0.18" text-anchor="end" font-weight="normal" >50</text>
<line x1="342.1" y1="210.25" x2="345.2" y2="210.25" stroke="#1a1a1a" stroke-width="0.9"/>
<text x="339.40" y="213.05" font-size="8.0" fill="#1a1a1a" stroke="#1a1a1a" stroke-width="0.18" text-anchor="end" font-weight="normal" >100</text>
<line x1="342.1" y1="191.22" x2="345.2" y2="191.22" stroke="#1a1a1a" stroke-width="0.9"/>
<text x="339.40" y="194.03" font-size="8.0" fill="#1a1a1a" stroke="#1a1a1a" stroke-width="0.18" text-anchor="end" font-weight="normal" >150</text>
<line x1="342.1" y1="172.20" x2="345.2" y2="172.20" stroke="#1a1a1a" stroke-width="0.9"/>
<text x="339.40" y="175.00" font-size="8.0" fill="#1a1a1a" stroke="#1a1a1a" stroke-width="0.18" text-anchor="end" font-weight="normal" >200</text>
<line x1="345.20" y1="248.2" x2="345.20" y2="251.4" stroke="#1a1a1a" stroke-width="0.9"/>
<text x="345.20" y="260.00" font-size="7.6" fill="#1a1a1a" stroke="#1a1a1a" stroke-width="0.18" text-anchor="middle" font-weight="normal" >0</text>
<line x1="371.20" y1="248.2" x2="371.20" y2="251.4" stroke="#1a1a1a" stroke-width="0.9"/>
<text x="371.20" y="260.00" font-size="7.6" fill="#1a1a1a" stroke="#1a1a1a" stroke-width="0.18" text-anchor="middle" font-weight="normal" >5</text>
<line x1="397.20" y1="248.2" x2="397.20" y2="251.4" stroke="#1a1a1a" stroke-width="0.9"/>
<text x="397.20" y="260.00" font-size="7.6" fill="#1a1a1a" stroke="#1a1a1a" stroke-width="0.18" text-anchor="middle" font-weight="normal" >10</text>
<line x1="423.20" y1="248.2" x2="423.20" y2="251.4" stroke="#1a1a1a" stroke-width="0.9"/>
<text x="423.20" y="260.00" font-size="7.6" fill="#1a1a1a" stroke="#1a1a1a" stroke-width="0.18" text-anchor="middle" font-weight="normal" >15</text>
<line x1="449.20" y1="248.2" x2="449.20" y2="251.4" stroke="#1a1a1a" stroke-width="0.9"/>
<text x="449.20" y="260.00" font-size="7.6" fill="#1a1a1a" stroke="#1a1a1a" stroke-width="0.18" text-anchor="middle" font-weight="normal" >20</text>
<text transform="translate(390.9,271.8)" font-size="8.8" fill="#1a1a1a" stroke="#1a1a1a" stroke-width="0.4" textLength="13.2" lengthAdjust="spacingAndGlyphs">Days</text>
<text transform="translate(320.2,243.2) rotate(-90)" font-size="8.8" fill="#1a1a1a" stroke="#1a1a1a" stroke-width="0.4" textLength="66.0" lengthAdjust="spacingAndGlyphs">Relative population (%)</text>
<polyline points="345.20,210.25 355.60,210.25 366.00,219.00 386.80,217.48 407.60,243.73 438.80,245.45" fill="none" stroke="#1b5790" stroke-width="1.1"/>
<polyline points="345.20,210.25 355.60,210.25 366.00,225.47 386.80,238.79 407.60,247.73 438.80,247.73" fill="none" stroke="#1b5790" stroke-width="1.1"/>
<polyline points="345.20,210.25 355.60,210.25 366.00,223.19 386.80,231.75 407.60,246.40 438.80,247.35" fill="none" stroke="#1b5790" stroke-width="1.1"/>
<polyline points="345.20,210.25 355.60,210.25 366.00,210.25 386.80,206.25 407.60,193.51 438.80,192.56" fill="none" stroke="#c2c2c2" stroke-width="1.1"/>
<polyline points="345.20,210.25 355.60,210.25 366.00,210.25 386.80,214.82 407.60,214.25 438.80,220.90" fill="none" stroke="#c2c2c2" stroke-width="1.1"/>
<polyline points="345.20,210.25 355.60,210.25 366.00,199.98 386.80,193.32 407.60,196.74 438.80,179.43" fill="none" stroke="#c2c2c2" stroke-width="1.1"/>
<circle cx="345.20" cy="210.25" r="1.85" fill="#1b5790"/><circle cx="355.60" cy="210.25" r="1.85" fill="#1b5790"/><circle cx="366.00" cy="219.00" r="1.85" fill="#1b5790"/><circle cx="386.80" cy="217.48" r="1.85" fill="#1b5790"/><circle cx="407.60" cy="243.73" r="1.85" fill="#1b5790"/><circle cx="438.80" cy="245.45" r="1.85" fill="#1b5790"/>
<rect x="343.45" y="208.50" width="3.50" height="3.50" fill="#1b5790"/><rect x="353.85" y="208.50" width="3.50" height="3.50" fill="#1b5790"/><rect x="364.25" y="223.72" width="3.50" height="3.50" fill="#1b5790"/><rect x="385.05" y="237.04" width="3.50" height="3.50" fill="#1b5790"/><rect x="405.85" y="245.98" width="3.50" height="3.50" fill="#1b5790"/><rect x="437.05" y="245.98" width="3.50" height="3.50" fill="#1b5790"/>
<path d="M345.20,207.95 L347.50,212.09 L342.90,212.09 Z" fill="#1b5790"/><path d="M355.60,207.95 L357.90,212.09 L353.30,212.09 Z" fill="#1b5790"/><path d="M366.00,220.89 L368.30,225.03 L363.70,225.03 Z" fill="#1b5790"/><path d="M386.80,229.45 L389.10,233.59 L384.50,233.59 Z" fill="#1b5790"/><path d="M407.60,244.10 L409.90,248.24 L405.30,248.24 Z" fill="#1b5790"/><path d="M438.80,245.05 L441.10,249.19 L436.50,249.19 Z" fill="#1b5790"/>
<circle cx="345.20" cy="210.25" r="1.85" fill="#b8b8b8"/><circle cx="355.60" cy="210.25" r="1.85" fill="#b8b8b8"/><circle cx="366.00" cy="210.25" r="1.85" fill="#b8b8b8"/><circle cx="386.80" cy="206.25" r="1.85" fill="#b8b8b8"/><circle cx="407.60" cy="193.51" r="1.85" fill="#b8b8b8"/><circle cx="438.80" cy="192.56" r="1.85" fill="#b8b8b8"/>
<rect x="343.45" y="208.50" width="3.50" height="3.50" fill="#b8b8b8"/><rect x="353.85" y="208.50" width="3.50" height="3.50" fill="#b8b8b8"/><rect x="364.25" y="208.50" width="3.50" height="3.50" fill="#b8b8b8"/><rect x="385.05" y="213.07" width="3.50" height="3.50" fill="#b8b8b8"/><rect x="405.85" y="212.50" width="3.50" height="3.50" fill="#b8b8b8"/><rect x="437.05" y="219.15" width="3.50" height="3.50" fill="#b8b8b8"/>
<path d="M345.20,207.95 L347.50,212.09 L342.90,212.09 Z" fill="#b8b8b8"/><path d="M355.60,207.95 L357.90,212.09 L353.30,212.09 Z" fill="#b8b8b8"/><path d="M366.00,197.68 L368.30,201.82 L363.70,201.82 Z" fill="#b8b8b8"/><path d="M386.80,191.02 L389.10,195.16 L384.50,195.16 Z" fill="#b8b8b8"/><path d="M407.60,194.44 L409.90,198.58 L405.30,198.58 Z" fill="#b8b8b8"/><path d="M438.80,177.13 L441.10,181.27 L436.50,181.27 Z" fill="#b8b8b8"/>
<circle cx="345.2" cy="210.25" r="1.9" fill="#d0d0d0" stroke="#9db4d4" stroke-width="0.6"/>
<line x1="452.0" y1="176.8" x2="464.0" y2="176.8" stroke="#c2c2c2" stroke-width="1.1"/>
<circle cx="458.10" cy="176.80" r="1.85" fill="#b8b8b8"/>
<text x="466.70" y="179.40" font-size="7.1" fill="#1a1a1a" stroke="#1a1a1a" stroke-width="0.18" text-anchor="start" font-weight="normal" >N-21.1</text>
<line x1="452.0" y1="187.6" x2="464.0" y2="187.6" stroke="#c2c2c2" stroke-width="1.1"/>
<rect x="456.35" y="185.85" width="3.50" height="3.50" fill="#b8b8b8"/>
<text x="466.70" y="190.20" font-size="7.1" fill="#1a1a1a" stroke="#1a1a1a" stroke-width="0.18" text-anchor="start" font-weight="normal" >N-22.27</text>
<line x1="452.0" y1="199.7" x2="464.0" y2="199.7" stroke="#c2c2c2" stroke-width="1.1"/>
<path d="M458.10,197.40 L460.40,201.54 L455.80,201.54 Z" fill="#b8b8b8"/>
<text x="466.70" y="202.30" font-size="7.1" fill="#1a1a1a" stroke="#1a1a1a" stroke-width="0.18" text-anchor="start" font-weight="normal" >N-23.5</text>
<line x1="452.0" y1="212.2" x2="464.0" y2="212.2" stroke="#1b5790" stroke-width="1.1"/>
<circle cx="458.10" cy="212.20" r="1.85" fill="#1b5790"/>
<text x="466.70" y="214.80" font-size="7.1" fill="#1a1a1a" stroke="#1a1a1a" stroke-width="0.18" text-anchor="start" font-weight="normal" >MDS-21.16</text>
<line x1="452.0" y1="224.8" x2="464.0" y2="224.8" stroke="#1b5790" stroke-width="1.1"/>
<rect x="456.35" y="223.05" width="3.50" height="3.50" fill="#1b5790"/>
<text x="466.70" y="227.40" font-size="7.1" fill="#1a1a1a" stroke="#1a1a1a" stroke-width="0.18" text-anchor="start" font-weight="normal" >MDS-22.44</text>
<line x1="452.0" y1="237.8" x2="464.0" y2="237.8" stroke="#1b5790" stroke-width="1.1"/>
<path d="M458.10,235.50 L460.40,239.64 L455.80,239.64 Z" fill="#1b5790"/>
<text x="466.70" y="240.40" font-size="7.1" fill="#1a1a1a" stroke="#1a1a1a" stroke-width="0.18" text-anchor="start" font-weight="normal" >MDS-23.6</text>
<line x1="37.7" y1="337.2" x2="37.7" y2="417.6" stroke="#1a1a1a" stroke-width="1.4"/>
<line x1="37.0" y1="416.9" x2="141.6" y2="416.9" stroke="#1a1a1a" stroke-width="1.4"/>
<line x1="34.6" y1="416.90" x2="37.3" y2="416.90" stroke="#1a1a1a" stroke-width="0.9"/>
<text x="32.00" y="419.40" font-size="7.1" fill="#1a1a1a" stroke="#1a1a1a" stroke-width="0.18" text-anchor="end" font-weight="normal" >0</text>
<line x1="34.6" y1="401.77" x2="37.3" y2="401.77" stroke="#1a1a1a" stroke-width="0.9"/>
<text x="32.00" y="404.27" font-size="7.1" fill="#1a1a1a" stroke="#1a1a1a" stroke-width="0.18" text-anchor="end" font-weight="normal" >20</text>
<line x1="34.6" y1="386.64" x2="37.3" y2="386.64" stroke="#1a1a1a" stroke-width="0.9"/>
<text x="32.00" y="389.14" font-size="7.1" fill="#1a1a1a" stroke="#1a1a1a" stroke-width="0.18" text-anchor="end" font-weight="normal" >40</text>
<line x1="34.6" y1="371.51" x2="37.3" y2="371.51" stroke="#1a1a1a" stroke-width="0.9"/>
<text x="32.00" y="374.01" font-size="7.1" fill="#1a1a1a" stroke="#1a1a1a" stroke-width="0.18" text-anchor="end" font-weight="normal" >60</text>
<line x1="34.6" y1="356.38" x2="37.3" y2="356.38" stroke="#1a1a1a" stroke-width="0.9"/>
<text x="32.00" y="358.88" font-size="7.1" fill="#1a1a1a" stroke="#1a1a1a" stroke-width="0.18" text-anchor="end" font-weight="normal" >80</text>
<line x1="34.6" y1="341.25" x2="37.3" y2="341.25" stroke="#1a1a1a" stroke-width="0.9"/>
<text x="32.00" y="343.75" font-size="7.1" fill="#1a1a1a" stroke="#1a1a1a" stroke-width="0.18" text-anchor="end" font-weight="normal" >100</text>
<text transform="translate(14.1,393.9) rotate(-90)" font-size="8.5" fill="#1a1a1a" stroke="#1a1a1a" stroke-width="0.35" textLength="29.9" lengthAdjust="spacingAndGlyphs">% Viability</text>
<text x="46.00" y="425.40" font-size="7.1" fill="#1a1a1a" stroke="#1a1a1a" stroke-width="0.18" text-anchor="start" font-weight="normal" >P21</text>
<text x="82.80" y="425.40" font-size="7.1" fill="#1a1a1a" stroke="#1a1a1a" stroke-width="0.18" text-anchor="start" font-weight="normal" >P22</text>
<text x="120.00" y="425.40" font-size="7.1" fill="#1a1a1a" stroke="#1a1a1a" stroke-width="0.18" text-anchor="start" font-weight="normal" >P23</text>
<line x1="44.0" y1="349.7" x2="61.0" y2="349.7" stroke="#505050" stroke-width="1.3"/>
<circle cx="52.7" cy="345.3" r="1.05" fill="#111"/>
<line x1="80.9" y1="349.7" x2="97.9" y2="349.7" stroke="#505050" stroke-width="1.3"/>
<circle cx="89.8" cy="345.3" r="1.05" fill="#111"/>
<line x1="118.2" y1="349.7" x2="134.7" y2="349.7" stroke="#505050" stroke-width="1.3"/>
<circle cx="126.9" cy="345.3" r="1.05" fill="#111"/>
<circle cx="43.80" cy="370.40" r="2.1" fill="#bababa" stroke="#fff" stroke-width="0.5"/>
<circle cx="46.70" cy="367.60" r="2.1" fill="#bababa" stroke="#fff" stroke-width="0.5"/>
<circle cx="49.80" cy="370.40" r="2.1" fill="#bababa" stroke="#fff" stroke-width="0.5"/>
<circle cx="45.20" cy="372.40" r="2.1" fill="#bababa" stroke="#fff" stroke-width="0.5"/>
<path d="M45.50,370.60 L48.10,370.60 M46.80,370.00 L46.80,371.20 M46.00,370.00 L47.60,370.00 M46.00,371.20 L47.60,371.20" fill="none" stroke="#111" stroke-width="0.9"/>
<circle cx="57.80" cy="389.30" r="2.1" fill="#0f4c8a"/>
<circle cx="62.90" cy="394.60" r="2.1" fill="#0f4c8a"/>
<circle cx="60.40" cy="401.20" r="2.1" fill="#0f4c8a"/>
<path d="M57.20,394.80 L64.20,394.80 M60.70,391.50 L60.70,398.20 M58.40,391.50 L63.00,391.50 M58.40,398.20 L63.00,398.20" fill="none" stroke="#111" stroke-width="0.9"/>
<circle cx="80.50" cy="362.70" r="2.1" fill="#bababa" stroke="#fff" stroke-width="0.5"/>
<circle cx="85.40" cy="363.50" r="2.1" fill="#bababa" stroke="#fff" stroke-width="0.5"/>
<circle cx="82.80" cy="373.20" r="2.1" fill="#bababa" stroke="#fff" stroke-width="0.5"/>
<path d="M78.40,366.30 L87.60,366.30 M83.00,363.50 L83.00,370.00 M80.70,363.50 L85.30,363.50 M80.70,370.00 L85.30,370.00" fill="none" stroke="#111" stroke-width="0.9"/>
<circle cx="96.30" cy="385.90" r="2.1" fill="#0f4c8a"/>
<circle cx="96.30" cy="393.50" r="2.1" fill="#0f4c8a"/>
<circle cx="96.30" cy="405.30" r="2.1" fill="#0f4c8a"/>
<path d="M92.20,394.80 L101.00,394.80 M96.60,388.90 L96.60,400.30 M94.30,388.90 L98.90,388.90 M94.30,400.30 L98.90,400.30" fill="none" stroke="#111" stroke-width="0.9"/>
<circle cx="116.50" cy="360.30" r="2.1" fill="#bababa" stroke="#fff" stroke-width="0.5"/>
<circle cx="121.40" cy="361.10" r="2.1" fill="#bababa" stroke="#fff" stroke-width="0.5"/>
<circle cx="119.30" cy="372.10" r="2.1" fill="#bababa" stroke="#fff" stroke-width="0.5"/>
<path d="M114.40,364.60 L123.60,364.60 M119.00,360.30 L119.00,368.80 M116.70,360.30 L121.30,360.30 M116.70,368.80 L121.30,368.80" fill="none" stroke="#111" stroke-width="0.9"/>
<circle cx="132.30" cy="384.60" r="2.1" fill="#0f4c8a"/>
<circle cx="132.30" cy="400.30" r="2.1" fill="#0f4c8a"/>
<circle cx="132.30" cy="408.00" r="2.1" fill="#0f4c8a"/>
<path d="M128.20,397.90 L137.00,397.90 M132.60,391.00 L132.60,402.40 M130.30,391.00 L134.90,391.00 M130.30,402.40 L134.90,402.40" fill="none" stroke="#111" stroke-width="0.9"/>
<text x="144.40" y="383.20" font-size="7.0" fill="#a8a8a8" stroke="#a8a8a8" stroke-width="0.18" text-anchor="start" font-weight="normal" >WT</text>
<text x="144.40" y="392.20" font-size="7.0" fill="#1d5a96" stroke="#1d5a96" stroke-width="0.18" text-anchor="start" font-weight="normal" >K700E</text>
</svg></div>
</body></html>
